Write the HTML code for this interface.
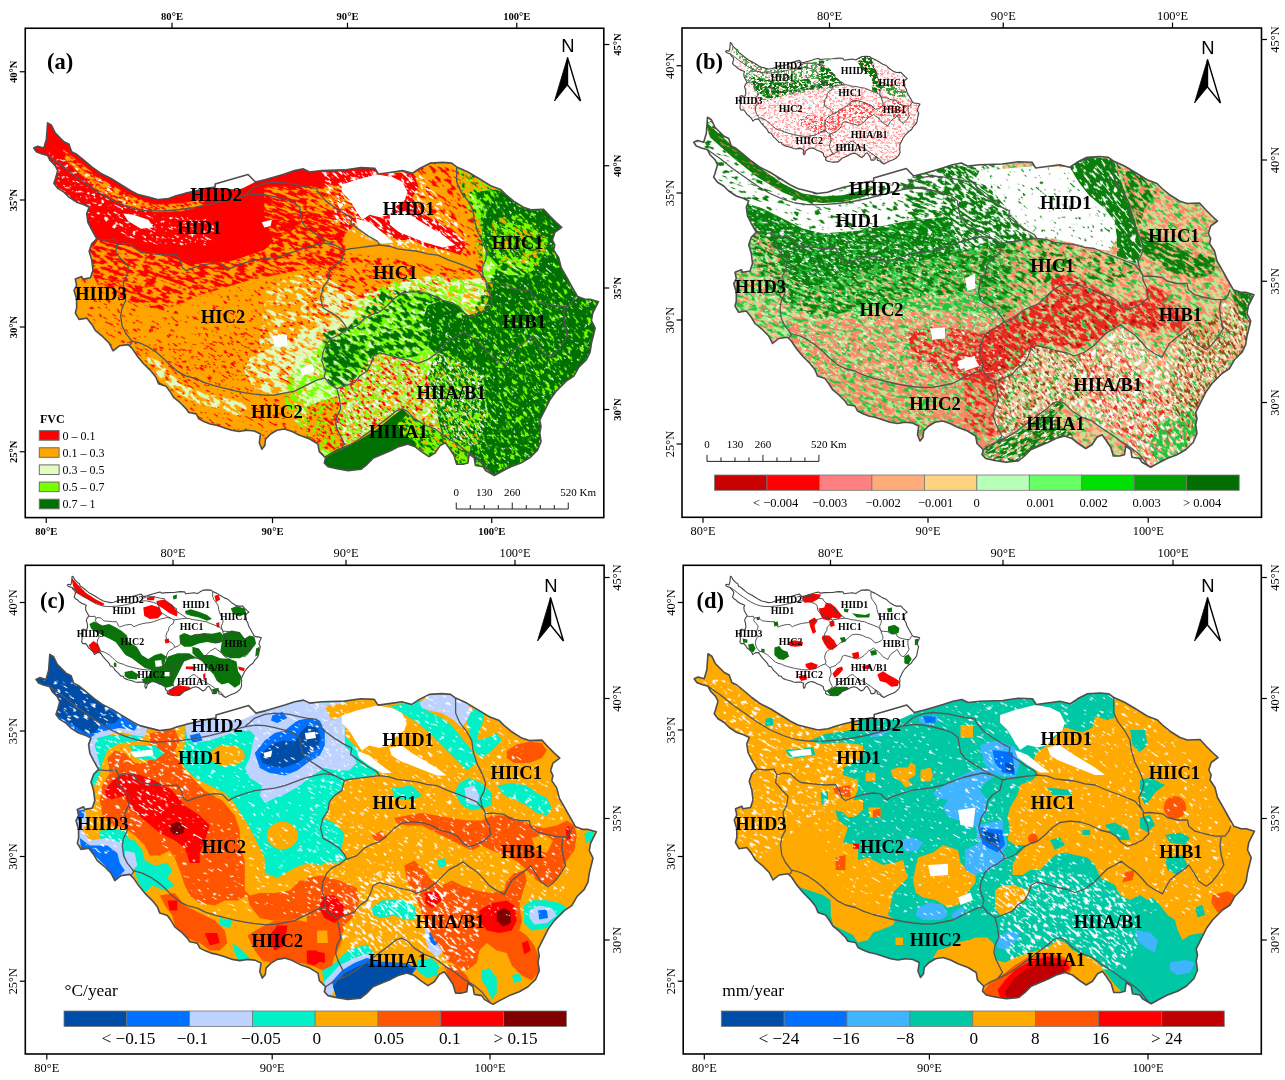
<!DOCTYPE html><html><head><meta charset="utf-8"><title>Figure</title><style>
html,body{margin:0;padding:0;background:#fff}svg{display:block}
text{font-family:"Liberation Serif","DejaVu Serif",serif;fill:#000}
.tk{font-size:12.4px}.tkb{font-size:10.6px;font-weight:bold}.rl{font-size:18.5px;font-weight:bold;text-anchor:middle}
.il{font-size:7.5px;font-weight:bold;text-anchor:middle}.pl{font-size:22.5px;font-weight:bold}.lg{font-size:17.4px}.sb{font-size:11px}
.N{font-family:"Liberation Sans","DejaVu Sans",sans-serif;font-size:18.4px;text-anchor:middle}
</style></head><body>
<svg width="1285" height="1080" viewBox="0 0 1285 1080">
<rect width="1285" height="1080" fill="#fff"/>
<defs>
<path id="ol" d="M694.2,678.8 L698.0,677.0 L704.2,678.8 L706.8,670.0 L708.0,653.8 L711.8,656.2 L715.5,663.8 L720.5,668.8 L724.2,672.5 L729.2,675.0 L731.8,682.5 L736.8,685.0 L743.0,690.0 L751.8,697.5 L760.5,703.8 L770.5,708.8 L780.5,715.0 L790.5,721.2 L798.0,725.0 L808.0,727.5 L818.0,730.0 L828.0,728.8 L835.5,726.2 L844.2,723.8 L855.5,721.2 L865.5,718.8 L874.2,717.5 L874.2,714.5 L906.8,705.0 L914.2,712.5 L924.2,710.0 L933.0,707.5 L943.0,704.5 L953.0,701.2 L961.8,699.5 L968.0,702.5 L980.0,701.2 L1002.5,700.5 L1018.8,698.2 L1032.5,698.8 L1036.2,704.5 L1047.5,703.0 L1060.0,701.2 L1070.0,703.8 L1077.5,698.8 L1087.5,693.8 L1100.0,693.0 L1108.8,693.8 L1113.8,697.5 L1125.0,702.5 L1137.5,710.0 L1147.5,716.2 L1157.5,720.0 L1162.5,725.0 L1170.0,731.2 L1180.0,737.5 L1187.5,740.0 L1200.0,739.5 L1206.2,746.2 L1212.5,752.5 L1218.0,757.5 L1211.2,762.5 L1208.8,770.0 L1211.2,775.0 L1210.0,780.0 L1215.0,787.5 L1217.5,797.5 L1222.5,806.2 L1228.8,817.5 L1233.8,826.2 L1241.2,828.8 L1246.2,828.8 L1254.5,831.2 L1248.8,842.5 L1247.5,850.0 L1251.2,857.5 L1250.0,862.5 L1247.5,872.5 L1246.2,881.2 L1242.5,888.8 L1235.0,896.2 L1230.0,905.0 L1222.5,910.0 L1212.5,920.0 L1206.2,928.8 L1201.2,938.8 L1196.2,948.8 L1197.5,955.0 L1196.2,961.2 L1197.5,970.0 L1193.8,978.8 L1186.2,986.2 L1177.5,991.2 L1167.5,995.0 L1158.8,999.5 L1151.2,1003.8 L1142.5,998.8 L1140.0,995.0 L1132.5,993.8 L1131.2,986.2 L1126.2,982.5 L1125.0,991.2 L1120.0,992.5 L1113.8,992.5 L1111.2,983.8 L1106.2,976.2 L1102.5,971.2 L1097.5,973.8 L1092.5,981.2 L1086.2,985.0 L1078.8,980.0 L1072.5,975.0 L1065.0,972.5 L1056.2,975.0 L1048.8,978.8 L1040.0,982.5 L1031.2,986.2 L1025.0,992.5 L1018.8,997.5 L1006.2,998.8 L995.0,997.0 L986.2,995.0 L982.5,991.2 L983.8,986.2 L977.5,980.0 L976.2,972.5 L968.0,967.5 L958.0,963.8 L950.5,960.0 L943.0,957.5 L935.5,958.8 L929.2,962.5 L924.2,967.5 L923.5,973.8 L920.5,977.5 L918.0,971.2 L919.2,962.5 L913.0,959.5 L905.5,958.8 L898.0,960.0 L890.5,958.8 L883.0,956.2 L875.5,953.8 L869.2,952.5 L863.0,950.0 L858.0,947.5 L855.5,942.5 L848.0,941.2 L845.5,937.5 L839.2,931.2 L833.0,926.2 L829.2,920.0 L825.5,915.0 L818.0,912.5 L815.5,906.2 L810.5,900.0 L803.0,892.5 L796.8,885.0 L791.8,877.5 L788.0,873.8 L779.2,875.0 L773.0,880.0 L769.2,872.5 L763.0,866.2 L755.5,860.0 L751.8,853.8 L746.8,847.5 L739.2,848.8 L735.5,842.5 L736.8,837.5 L736.8,828.8 L734.2,820.0 L736.8,815.0 L735.5,808.8 L741.8,806.2 L743.0,808.8 L750.5,807.5 L753.0,800.0 L751.8,790.0 L749.2,781.2 L751.8,773.8 L756.8,768.8 L751.8,760.0 L748.0,752.5 L746.8,743.8 L749.2,737.5 L744.2,735.0 L736.8,732.5 L729.2,727.5 L724.2,722.5 L718.0,718.8 L714.2,713.8 L715.5,710.0 L718.0,701.2 L715.5,696.2 L710.5,691.2 L708.0,686.2 L701.8,684.5 L696.8,682.5Z"/>
<clipPath id="cp"><use href="#ol"/></clipPath>
<path id="bd" d="M708.0,686.2 L720.5,695.0 L733.0,705.0 L745.5,713.8 L758.0,722.5 L770.5,730.0 L783.0,735.5 L795.5,739.5 L808.0,741.2 L823.0,741.2 L838.0,740.0 L853.0,738.0 L868.0,735.0 L883.0,731.2 L895.5,728.0 L903.0,726.2 L913.0,724.5 L923.0,725.0 L933.0,727.0 L943.0,729.5 L951.8,732.5 L958.0,737.5 L959.2,745.0 L960.5,752.5 L965.5,758.8 L975.5,765.0 L983.0,770.0 L993.0,775.0 L1002.5,780.0 M903.0,726.2 L913.0,717.5 L923.0,713.8 L933.0,712.5 L948.0,713.8 L958.0,716.2 L965.0,717.5 L975.0,718.8 L976.2,722.5 L983.8,731.2 L992.5,737.5 L1002.5,743.8 L1010.0,747.5 L1008.8,753.8 L1017.5,760.0 L1026.2,766.2 L1035.0,771.2 L1037.5,775.0 M756.8,769.2 L765.5,770.0 L774.2,769.2 L776.8,775.0 L775.5,782.5 L781.8,790.0 L788.0,796.2 L786.8,805.0 L783.0,812.5 L784.2,820.0 L785.5,830.0 L781.8,837.5 L780.5,845.0 L781.8,855.0 L785.5,862.5 L790.5,868.8 L791.8,871.2 L789.2,875.0 M776.8,775.0 L783.0,773.0 L790.5,773.8 L795.5,778.8 L800.5,782.5 L813.0,783.8 L825.5,785.0 L835.5,784.5 L839.2,790.0 L841.8,797.5 L845.5,800.5 L853.0,797.5 L863.0,794.5 L873.0,793.0 L880.5,793.8 L886.8,800.0 L890.5,797.5 L900.5,793.8 L913.0,790.0 L923.0,788.8 L933.0,787.5 L943.0,785.0 L953.0,781.2 L963.0,777.5 L973.0,775.0 L983.0,773.0 L993.0,775.0 M1002.5,780.0 L1007.5,778.8 L1017.5,777.5 L1027.5,776.2 L1037.5,775.0 L1047.5,776.2 L1055.0,778.8 L1065.0,780.0 L1075.0,781.2 L1085.0,783.8 L1095.0,785.0 L1105.0,789.5 L1120.0,795.0 L1135.0,801.2 L1142.5,810.0 L1143.8,813.0 M1113.8,697.5 L1113.8,712.5 L1117.5,721.2 L1125.0,731.2 L1130.0,740.0 L1131.2,750.0 L1135.0,762.5 L1140.0,772.5 L1143.8,782.5 L1142.5,790.0 L1138.8,797.5 L1140.0,805.0 L1143.8,813.0 M1143.8,813.0 L1150.0,812.5 L1162.5,813.8 L1167.5,817.5 L1177.5,820.0 L1187.5,820.0 L1188.8,826.2 L1195.0,831.2 L1205.0,833.8 L1215.0,836.2 L1225.0,836.2 L1228.8,831.2 L1230.5,826.2 M1002.5,780.0 L1000.0,790.0 L992.5,795.0 L987.5,801.2 L986.2,810.0 L981.2,817.5 L978.8,827.5 L981.2,837.5 L990.0,842.5 L997.5,847.5 L1002.5,853.8 L1005.0,858.0 L997.5,863.8 L990.0,867.5 L985.0,872.5 L981.2,881.2 L980.0,890.0 L983.8,900.0 L982.5,906.2 M1005.0,858.8 L1015.0,855.0 L1022.5,847.5 L1030.0,843.8 L1037.5,841.2 L1045.0,835.0 L1052.5,827.5 L1060.0,822.5 L1070.0,821.2 L1080.0,822.0 L1090.0,825.0 L1100.0,830.0 L1110.0,832.5 L1116.2,836.2 L1121.2,842.5 L1127.5,846.2 L1135.0,843.8 L1142.5,840.0 L1148.8,833.8 L1147.5,825.0 L1143.8,817.5 L1143.0,813.0 M1221.2,837.0 L1220.0,845.0 L1221.2,855.0 L1223.8,865.0 L1217.5,875.0 L1211.2,882.5 L1206.2,886.2 L1198.8,881.2 L1193.8,872.5 L1188.8,865.0 L1185.0,868.8 L1177.5,873.8 L1170.0,880.0 L1165.0,888.8 L1162.5,893.8 L1155.0,890.0 L1147.5,885.0 L1141.2,877.5 L1135.0,871.2 L1127.5,866.2 L1121.2,861.2 L1115.0,865.0 L1107.5,868.8 L1101.2,875.0 L1093.8,882.5 L1085.0,888.8 L1075.0,892.5 L1067.5,889.5 L1057.5,887.5 L1047.5,884.5 L1037.5,882.0 L1031.2,885.0 L1028.8,892.5 L1025.0,900.0 L1017.5,905.0 L1012.5,911.2 L1002.5,915.0 L995.0,917.5 L987.5,912.5 L982.5,906.2 M791.8,870.0 L800.5,872.5 L808.0,876.2 L815.5,881.2 L823.0,887.5 L830.5,895.0 L838.0,901.2 L845.5,905.0 L855.5,907.5 L863.0,911.2 L873.0,914.5 L883.0,917.0 L893.0,919.5 L903.0,921.5 L913.0,923.0 L923.0,924.0 L933.0,923.8 L943.0,922.0 L953.0,920.0 L960.5,916.2 L968.0,912.5 L975.5,908.8 L982.5,907.0 M995.0,917.5 L997.5,927.5 L998.8,937.5 L995.0,945.0 L993.8,952.5 L996.2,960.0 L1000.0,967.5 L1002.5,972.5 L997.5,978.8 L990.0,982.0 L983.8,986.2 M997.5,978.8 L1007.5,973.8 L1017.5,967.5 L1027.5,960.0 L1037.5,952.5 L1047.5,945.0 L1053.8,939.5 L1060.0,937.5 L1065.0,940.0 L1072.5,947.5 L1082.5,953.8 L1092.5,957.5 L1102.5,965.0 L1112.5,971.2 L1122.5,978.8 L1132.5,985.0 L1140.0,991.2 L1145.0,997.5 L1148.8,1002.5"/>

<filter id="spk" x="0" y="0" width="100%" height="100%" filterUnits="objectBoundingBox" color-interpolation-filters="sRGB">
<feTurbulence type="fractalNoise" baseFrequency="0.09 0.16" numOctaves="2" seed="7" result="n"/>
<feColorMatrix in="n" type="matrix" values="0 0 0 0 1  0 0 0 0 1  0 0 0 0 1  9 0 0 0 -5.2" result="m"/>
<feComposite in="m" in2="SourceGraphic" operator="in"/>
</filter>
<filter id="spk2" x="0" y="0" width="100%" height="100%" filterUnits="objectBoundingBox" color-interpolation-filters="sRGB">
<feTurbulence type="fractalNoise" baseFrequency="0.12 0.2" numOctaves="2" seed="3" result="n"/>
<feColorMatrix in="n" type="matrix" values="0 0 0 0 1  0 0 0 0 1  0 0 0 0 1  9 0 0 0 -5.6" result="m"/>
<feComposite in="m" in2="SourceGraphic" operator="in"/>
</filter>
<filter id="f0" x="0" y="0" width="1" height="1" color-interpolation-filters="sRGB"><feTurbulence type="fractalNoise" baseFrequency="0.16 0.45" numOctaves="2" seed="4"/><feColorMatrix type="matrix" values="0 0 0 0 0  0 0 0 0 0  0 0 0 0 0  14 0 0 0 -5.880" result="m"/><feComposite in="SourceGraphic" in2="m" operator="in"/></filter><filter id="f1" x="0" y="0" width="1" height="1" color-interpolation-filters="sRGB"><feTurbulence type="fractalNoise" baseFrequency="0.096 0.375" numOctaves="2" seed="5"/><feColorMatrix type="matrix" values="0 0 0 0 0  0 0 0 0 0  0 0 0 0 0  14 0 0 0 -7.000" result="m"/><feComposite in="SourceGraphic" in2="m" operator="in"/></filter><filter id="f2" x="0" y="0" width="1" height="1" color-interpolation-filters="sRGB"><feTurbulence type="fractalNoise" baseFrequency="0.096 0.375" numOctaves="2" seed="6"/><feColorMatrix type="matrix" values="0 0 0 0 0  0 0 0 0 0  0 0 0 0 0  14 0 0 0 -7.000" result="m"/><feComposite in="SourceGraphic" in2="m" operator="in"/></filter><filter id="f3" x="0" y="0" width="1" height="1" color-interpolation-filters="sRGB"><feTurbulence type="fractalNoise" baseFrequency="0.112 0.33" numOctaves="2" seed="2"/><feColorMatrix type="matrix" values="0 0 0 0 0  0 0 0 0 0  0 0 0 0 0  14 0 0 0 -6.580" result="m"/><feComposite in="SourceGraphic" in2="m" operator="in"/></filter><filter id="f4" x="0" y="0" width="1" height="1" color-interpolation-filters="sRGB"><feTurbulence type="fractalNoise" baseFrequency="0.16 0.42" numOctaves="2" seed="9"/><feColorMatrix type="matrix" values="0 0 0 0 0  0 0 0 0 0  0 0 0 0 0  14 0 0 0 -8.960" result="m"/><feComposite in="SourceGraphic" in2="m" operator="in"/></filter><filter id="f5" x="0" y="0" width="1" height="1" color-interpolation-filters="sRGB"><feTurbulence type="fractalNoise" baseFrequency="0.16 0.42" numOctaves="2" seed="11"/><feColorMatrix type="matrix" values="0 0 0 0 0  0 0 0 0 0  0 0 0 0 0  14 0 0 0 -9.100" result="m"/><feComposite in="SourceGraphic" in2="m" operator="in"/></filter><filter id="f6" x="0" y="0" width="1" height="1" color-interpolation-filters="sRGB"><feTurbulence type="fractalNoise" baseFrequency="0.128 0.375" numOctaves="2" seed="12"/><feColorMatrix type="matrix" values="0 0 0 0 0  0 0 0 0 0  0 0 0 0 0  14 0 0 0 -7.700" result="m"/><feComposite in="SourceGraphic" in2="m" operator="in"/></filter><filter id="f7" x="0" y="0" width="1" height="1" color-interpolation-filters="sRGB"><feTurbulence type="fractalNoise" baseFrequency="0.112 0.375" numOctaves="2" seed="13"/><feColorMatrix type="matrix" values="0 0 0 0 0  0 0 0 0 0  0 0 0 0 0  14 0 0 0 -7.840" result="m"/><feComposite in="SourceGraphic" in2="m" operator="in"/></filter><filter id="f8" x="0" y="0" width="1" height="1" color-interpolation-filters="sRGB"><feTurbulence type="fractalNoise" baseFrequency="0.112 0.3" numOctaves="2" seed="21"/><feColorMatrix type="matrix" values="0 0 0 0 0  0 0 0 0 0  0 0 0 0 0  14 0 0 0 -6.160" result="m"/><feComposite in="SourceGraphic" in2="m" operator="in"/></filter><filter id="f9" x="0" y="0" width="1" height="1" color-interpolation-filters="sRGB"><feTurbulence type="fractalNoise" baseFrequency="0.112 0.3" numOctaves="2" seed="22"/><feColorMatrix type="matrix" values="0 0 0 0 0  0 0 0 0 0  0 0 0 0 0  14 0 0 0 -6.300" result="m"/><feComposite in="SourceGraphic" in2="m" operator="in"/></filter><filter id="f10" x="0" y="0" width="1" height="1" color-interpolation-filters="sRGB"><feTurbulence type="fractalNoise" baseFrequency="0.128 0.3" numOctaves="2" seed="23"/><feColorMatrix type="matrix" values="0 0 0 0 0  0 0 0 0 0  0 0 0 0 0  14 0 0 0 -6.580" result="m"/><feComposite in="SourceGraphic" in2="m" operator="in"/></filter><filter id="f11" x="0" y="0" width="1" height="1" color-interpolation-filters="sRGB"><feTurbulence type="fractalNoise" baseFrequency="0.112 0.3" numOctaves="2" seed="24"/><feColorMatrix type="matrix" values="0 0 0 0 0  0 0 0 0 0  0 0 0 0 0  14 0 0 0 -7.420" result="m"/><feComposite in="SourceGraphic" in2="m" operator="in"/></filter><filter id="f12" x="0" y="0" width="1" height="1" color-interpolation-filters="sRGB"><feTurbulence type="fractalNoise" baseFrequency="0.13 0.3" numOctaves="2" seed="25"/><feColorMatrix type="matrix" values="0 0 0 0 0  0 0 0 0 0  0 0 0 0 0  14 0 0 0 -7.000" result="m"/><feComposite in="SourceGraphic" in2="m" operator="in"/></filter><filter id="f13" x="0" y="0" width="1" height="1" color-interpolation-filters="sRGB"><feTurbulence type="fractalNoise" baseFrequency="0.2 0.4" numOctaves="2" seed="26"/><feColorMatrix type="matrix" values="0 0 0 0 0  0 0 0 0 0  0 0 0 0 0  14 0 0 0 -8.680" result="m"/><feComposite in="SourceGraphic" in2="m" operator="in"/></filter><filter id="f14" x="0" y="0" width="1" height="1" color-interpolation-filters="sRGB"><feTurbulence type="fractalNoise" baseFrequency="0.13 0.3" numOctaves="2" seed="33"/><feColorMatrix type="matrix" values="0 0 0 0 0  0 0 0 0 0  0 0 0 0 0  14 0 0 0 -6.300" result="m"/><feComposite in="SourceGraphic" in2="m" operator="in"/></filter><filter id="f15" x="0" y="0" width="1" height="1" color-interpolation-filters="sRGB"><feTurbulence type="fractalNoise" baseFrequency="0.144 0.33" numOctaves="2" seed="31"/><feColorMatrix type="matrix" values="0 0 0 0 0  0 0 0 0 0  0 0 0 0 0  14 0 0 0 -7.280" result="m"/><feComposite in="SourceGraphic" in2="m" operator="in"/></filter><filter id="f16" x="0" y="0" width="1" height="1" color-interpolation-filters="sRGB"><feTurbulence type="fractalNoise" baseFrequency="0.144 0.33" numOctaves="2" seed="32"/><feColorMatrix type="matrix" values="0 0 0 0 0  0 0 0 0 0  0 0 0 0 0  14 0 0 0 -7.000" result="m"/><feComposite in="SourceGraphic" in2="m" operator="in"/></filter><filter id="f17" x="0" y="0" width="1" height="1" color-interpolation-filters="sRGB"><feTurbulence type="fractalNoise" baseFrequency="0.16 0.375" numOctaves="2" seed="41"/><feColorMatrix type="matrix" values="0 0 0 0 0  0 0 0 0 0  0 0 0 0 0  14 0 0 0 -7.000" result="m"/><feComposite in="SourceGraphic" in2="m" operator="in"/></filter><filter id="f18" x="0" y="0" width="1" height="1" color-interpolation-filters="sRGB"><feTurbulence type="fractalNoise" baseFrequency="0.16 0.375" numOctaves="2" seed="42"/><feColorMatrix type="matrix" values="0 0 0 0 0  0 0 0 0 0  0 0 0 0 0  14 0 0 0 -7.280" result="m"/><feComposite in="SourceGraphic" in2="m" operator="in"/></filter><filter id="f19" x="0" y="0" width="1" height="1" color-interpolation-filters="sRGB"><feTurbulence type="fractalNoise" baseFrequency="0.192 0.375" numOctaves="2" seed="43"/><feColorMatrix type="matrix" values="0 0 0 0 0  0 0 0 0 0  0 0 0 0 0  14 0 0 0 -8.120" result="m"/><feComposite in="SourceGraphic" in2="m" operator="in"/></filter><filter id="f20" x="0" y="0" width="1" height="1" color-interpolation-filters="sRGB"><feTurbulence type="fractalNoise" baseFrequency="0.192 0.45" numOctaves="2" seed="44"/><feColorMatrix type="matrix" values="0 0 0 0 0  0 0 0 0 0  0 0 0 0 0  14 0 0 0 -8.400" result="m"/><feComposite in="SourceGraphic" in2="m" operator="in"/></filter><filter id="f21" x="0" y="0" width="1" height="1" color-interpolation-filters="sRGB"><feTurbulence type="fractalNoise" baseFrequency="0.192 0.375" numOctaves="2" seed="45"/><feColorMatrix type="matrix" values="0 0 0 0 0  0 0 0 0 0  0 0 0 0 0  14 0 0 0 -7.280" result="m"/><feComposite in="SourceGraphic" in2="m" operator="in"/></filter><filter id="f22" x="0" y="0" width="1" height="1" color-interpolation-filters="sRGB"><feTurbulence type="fractalNoise" baseFrequency="0.192 0.375" numOctaves="2" seed="46"/><feColorMatrix type="matrix" values="0 0 0 0 0  0 0 0 0 0  0 0 0 0 0  14 0 0 0 -7.700" result="m"/><feComposite in="SourceGraphic" in2="m" operator="in"/></filter><filter id="f23" x="0" y="0" width="1" height="1" color-interpolation-filters="sRGB"><feTurbulence type="fractalNoise" baseFrequency="0.16 0.375" numOctaves="2" seed="47"/><feColorMatrix type="matrix" values="0 0 0 0 0  0 0 0 0 0  0 0 0 0 0  14 0 0 0 -7.000" result="m"/><feComposite in="SourceGraphic" in2="m" operator="in"/></filter><filter id="f24" x="0" y="0" width="1" height="1" color-interpolation-filters="sRGB"><feTurbulence type="fractalNoise" baseFrequency="0.16 0.375" numOctaves="2" seed="48"/><feColorMatrix type="matrix" values="0 0 0 0 0  0 0 0 0 0  0 0 0 0 0  14 0 0 0 -8.120" result="m"/><feComposite in="SourceGraphic" in2="m" operator="in"/></filter><filter id="f25" x="0" y="0" width="1" height="1" color-interpolation-filters="sRGB"><feTurbulence type="fractalNoise" baseFrequency="0.112 0.3" numOctaves="2" seed="51"/><feColorMatrix type="matrix" values="0 0 0 0 0  0 0 0 0 0  0 0 0 0 0  14 0 0 0 -6.440" result="m"/><feComposite in="SourceGraphic" in2="m" operator="in"/></filter><filter id="f26" x="0" y="0" width="1" height="1" color-interpolation-filters="sRGB"><feTurbulence type="fractalNoise" baseFrequency="0.112 0.3" numOctaves="2" seed="52"/><feColorMatrix type="matrix" values="0 0 0 0 0  0 0 0 0 0  0 0 0 0 0  14 0 0 0 -7.000" result="m"/><feComposite in="SourceGraphic" in2="m" operator="in"/></filter><filter id="f27" x="0" y="0" width="1" height="1" color-interpolation-filters="sRGB"><feTurbulence type="fractalNoise" baseFrequency="0.128 0.3" numOctaves="2" seed="53"/><feColorMatrix type="matrix" values="0 0 0 0 0  0 0 0 0 0  0 0 0 0 0  14 0 0 0 -6.580" result="m"/><feComposite in="SourceGraphic" in2="m" operator="in"/></filter><filter id="f28" x="0" y="0" width="1" height="1" color-interpolation-filters="sRGB"><feTurbulence type="fractalNoise" baseFrequency="0.128 0.33" numOctaves="2" seed="61"/><feColorMatrix type="matrix" values="0 0 0 0 0  0 0 0 0 0  0 0 0 0 0  14 0 0 0 -8.680" result="m"/><feComposite in="SourceGraphic" in2="m" operator="in"/></filter><filter id="f29" x="0" y="0" width="1" height="1" color-interpolation-filters="sRGB"><feTurbulence type="fractalNoise" baseFrequency="0.128 0.33" numOctaves="2" seed="62"/><feColorMatrix type="matrix" values="0 0 0 0 0  0 0 0 0 0  0 0 0 0 0  14 0 0 0 -8.820" result="m"/><feComposite in="SourceGraphic" in2="m" operator="in"/></filter><filter id="f30" x="0" y="0" width="1" height="1" color-interpolation-filters="sRGB"><feTurbulence type="fractalNoise" baseFrequency="0.24 0.45" numOctaves="2" seed="63"/><feColorMatrix type="matrix" values="0 0 0 0 0  0 0 0 0 0  0 0 0 0 0  14 0 0 0 -9.520" result="m"/><feComposite in="SourceGraphic" in2="m" operator="in"/></filter><filter id="f31" x="0" y="0" width="1" height="1" color-interpolation-filters="sRGB"><feTurbulence type="fractalNoise" baseFrequency="0.24 0.525" numOctaves="2" seed="64"/><feColorMatrix type="matrix" values="0 0 0 0 0  0 0 0 0 0  0 0 0 0 0  14 0 0 0 -7.700" result="m"/><feComposite in="SourceGraphic" in2="m" operator="in"/></filter><filter id="f32" x="0" y="0" width="1" height="1" color-interpolation-filters="sRGB"><feTurbulence type="fractalNoise" baseFrequency="0.16 0.375" numOctaves="2" seed="65"/><feColorMatrix type="matrix" values="0 0 0 0 0  0 0 0 0 0  0 0 0 0 0  14 0 0 0 -7.700" result="m"/><feComposite in="SourceGraphic" in2="m" operator="in"/></filter><filter id="f33" x="0" y="0" width="1" height="1" color-interpolation-filters="sRGB"><feTurbulence type="fractalNoise" baseFrequency="0.192 0.45" numOctaves="2" seed="66"/><feColorMatrix type="matrix" values="0 0 0 0 0  0 0 0 0 0  0 0 0 0 0  14 0 0 0 -8.960" result="m"/><feComposite in="SourceGraphic" in2="m" operator="in"/></filter><filter id="f34" x="0" y="0" width="1" height="1" color-interpolation-filters="sRGB"><feTurbulence type="fractalNoise" baseFrequency="0.13 0.3" numOctaves="2" seed="69"/><feColorMatrix type="matrix" values="0 0 0 0 0  0 0 0 0 0  0 0 0 0 0  14 0 0 0 -7.700" result="m"/><feComposite in="SourceGraphic" in2="m" operator="in"/></filter><filter id="f35" x="0" y="0" width="1" height="1" color-interpolation-filters="sRGB"><feTurbulence type="fractalNoise" baseFrequency="0.13 0.3" numOctaves="2" seed="70"/><feColorMatrix type="matrix" values="0 0 0 0 0  0 0 0 0 0  0 0 0 0 0  14 0 0 0 -7.280" result="m"/><feComposite in="SourceGraphic" in2="m" operator="in"/></filter><filter id="f36" x="0" y="0" width="1" height="1" color-interpolation-filters="sRGB"><feTurbulence type="fractalNoise" baseFrequency="0.16 0.375" numOctaves="2" seed="67"/><feColorMatrix type="matrix" values="0 0 0 0 0  0 0 0 0 0  0 0 0 0 0  14 0 0 0 -7.280" result="m"/><feComposite in="SourceGraphic" in2="m" operator="in"/></filter><filter id="f37" x="0" y="0" width="1" height="1" color-interpolation-filters="sRGB"><feTurbulence type="fractalNoise" baseFrequency="0.16 0.375" numOctaves="2" seed="68"/><feColorMatrix type="matrix" values="0 0 0 0 0  0 0 0 0 0  0 0 0 0 0  14 0 0 0 -8.400" result="m"/><feComposite in="SourceGraphic" in2="m" operator="in"/></filter><filter id="f38" x="0" y="0" width="1" height="1" color-interpolation-filters="sRGB"><feTurbulence type="fractalNoise" baseFrequency="0.16 0.45" numOctaves="2" seed="71"/><feColorMatrix type="matrix" values="0 0 0 0 0  0 0 0 0 0  0 0 0 0 0  14 0 0 0 -7.840" result="m"/><feComposite in="SourceGraphic" in2="m" operator="in"/></filter><filter id="f39" x="0" y="0" width="1" height="1" color-interpolation-filters="sRGB"><feTurbulence type="fractalNoise" baseFrequency="0.192 0.45" numOctaves="2" seed="72"/><feColorMatrix type="matrix" values="0 0 0 0 0  0 0 0 0 0  0 0 0 0 0  14 0 0 0 -8.680" result="m"/><feComposite in="SourceGraphic" in2="m" operator="in"/></filter><filter id="f40" x="0" y="0" width="1" height="1" color-interpolation-filters="sRGB"><feTurbulence type="fractalNoise" baseFrequency="0.144 0.33" numOctaves="2" seed="101"/><feColorMatrix type="matrix" values="0 0 0 0 0  0 0 0 0 0  0 0 0 0 0  14 0 0 0 -6.160" result="m"/><feComposite in="SourceGraphic" in2="m" operator="in"/></filter><filter id="f41" x="0" y="0" width="1" height="1" color-interpolation-filters="sRGB"><feTurbulence type="fractalNoise" baseFrequency="0.128 0.3" numOctaves="2" seed="102"/><feColorMatrix type="matrix" values="0 0 0 0 0  0 0 0 0 0  0 0 0 0 0  14 0 0 0 -7.000" result="m"/><feComposite in="SourceGraphic" in2="m" operator="in"/></filter><filter id="f42" x="0" y="0" width="1" height="1" color-interpolation-filters="sRGB"><feTurbulence type="fractalNoise" baseFrequency="0.16 0.33" numOctaves="2" seed="103"/><feColorMatrix type="matrix" values="0 0 0 0 0  0 0 0 0 0  0 0 0 0 0  14 0 0 0 -8.120" result="m"/><feComposite in="SourceGraphic" in2="m" operator="in"/></filter><filter id="f43" x="0" y="0" width="1" height="1" color-interpolation-filters="sRGB"><feTurbulence type="fractalNoise" baseFrequency="0.144 0.33" numOctaves="2" seed="104"/><feColorMatrix type="matrix" values="0 0 0 0 0  0 0 0 0 0  0 0 0 0 0  14 0 0 0 -7.000" result="m"/><feComposite in="SourceGraphic" in2="m" operator="in"/></filter><filter id="f44" x="0" y="0" width="1" height="1" color-interpolation-filters="sRGB"><feTurbulence type="fractalNoise" baseFrequency="0.128 0.3" numOctaves="2" seed="105"/><feColorMatrix type="matrix" values="0 0 0 0 0  0 0 0 0 0  0 0 0 0 0  14 0 0 0 -7.840" result="m"/><feComposite in="SourceGraphic" in2="m" operator="in"/></filter><filter id="f45" x="0" y="0" width="1" height="1" color-interpolation-filters="sRGB"><feTurbulence type="fractalNoise" baseFrequency="0.16 0.33" numOctaves="2" seed="106"/><feColorMatrix type="matrix" values="0 0 0 0 0  0 0 0 0 0  0 0 0 0 0  14 0 0 0 -7.280" result="m"/><feComposite in="SourceGraphic" in2="m" operator="in"/></filter><filter id="f46" x="0" y="0" width="1" height="1" color-interpolation-filters="sRGB"><feTurbulence type="fractalNoise" baseFrequency="0.13 0.3" numOctaves="2" seed="107"/><feColorMatrix type="matrix" values="0 0 0 0 0  0 0 0 0 0  0 0 0 0 0  14 0 0 0 -7.000" result="m"/><feComposite in="SourceGraphic" in2="m" operator="in"/></filter><filter id="f47" x="0" y="0" width="1" height="1" color-interpolation-filters="sRGB"><feTurbulence type="fractalNoise" baseFrequency="0.14 0.3" numOctaves="2" seed="108"/><feColorMatrix type="matrix" values="0 0 0 0 0  0 0 0 0 0  0 0 0 0 0  14 0 0 0 -7.280" result="m"/><feComposite in="SourceGraphic" in2="m" operator="in"/></filter><filter id="f48" x="0" y="0" width="1" height="1" color-interpolation-filters="sRGB"><feTurbulence type="fractalNoise" baseFrequency="0.144 0.3" numOctaves="2" seed="111"/><feColorMatrix type="matrix" values="0 0 0 0 0  0 0 0 0 0  0 0 0 0 0  14 0 0 0 -6.580" result="m"/><feComposite in="SourceGraphic" in2="m" operator="in"/></filter><filter id="f49" x="0" y="0" width="1" height="1" color-interpolation-filters="sRGB"><feTurbulence type="fractalNoise" baseFrequency="0.128 0.3" numOctaves="2" seed="112"/><feColorMatrix type="matrix" values="0 0 0 0 0  0 0 0 0 0  0 0 0 0 0  14 0 0 0 -6.300" result="m"/><feComposite in="SourceGraphic" in2="m" operator="in"/></filter><filter id="f50" x="0" y="0" width="1" height="1" color-interpolation-filters="sRGB"><feTurbulence type="fractalNoise" baseFrequency="0.16 0.33" numOctaves="2" seed="113"/><feColorMatrix type="matrix" values="0 0 0 0 0  0 0 0 0 0  0 0 0 0 0  14 0 0 0 -8.680" result="m"/><feComposite in="SourceGraphic" in2="m" operator="in"/></filter><filter id="f51" x="0" y="0" width="1" height="1" color-interpolation-filters="sRGB"><feTurbulence type="fractalNoise" baseFrequency="0.144 0.3" numOctaves="2" seed="114"/><feColorMatrix type="matrix" values="0 0 0 0 0  0 0 0 0 0  0 0 0 0 0  14 0 0 0 -6.300" result="m"/><feComposite in="SourceGraphic" in2="m" operator="in"/></filter><filter id="f52" x="0" y="0" width="1" height="1" color-interpolation-filters="sRGB"><feTurbulence type="fractalNoise" baseFrequency="0.144 0.3" numOctaves="2" seed="115"/><feColorMatrix type="matrix" values="0 0 0 0 0  0 0 0 0 0  0 0 0 0 0  14 0 0 0 -7.280" result="m"/><feComposite in="SourceGraphic" in2="m" operator="in"/></filter><filter id="f53" x="0" y="0" width="1" height="1" color-interpolation-filters="sRGB"><feTurbulence type="fractalNoise" baseFrequency="0.16 0.33" numOctaves="2" seed="116"/><feColorMatrix type="matrix" values="0 0 0 0 0  0 0 0 0 0  0 0 0 0 0  14 0 0 0 -7.700" result="m"/><feComposite in="SourceGraphic" in2="m" operator="in"/></filter><filter id="f54" x="0" y="0" width="1" height="1" color-interpolation-filters="sRGB"><feTurbulence type="fractalNoise" baseFrequency="0.192 0.45" numOctaves="2" seed="121"/><feColorMatrix type="matrix" values="0 0 0 0 0  0 0 0 0 0  0 0 0 0 0  14 0 0 0 -7.420" result="m"/><feComposite in="SourceGraphic" in2="m" operator="in"/></filter><filter id="f55" x="0" y="0" width="1" height="1" color-interpolation-filters="sRGB"><feTurbulence type="fractalNoise" baseFrequency="0.192 0.42" numOctaves="2" seed="122"/><feColorMatrix type="matrix" values="0 0 0 0 0  0 0 0 0 0  0 0 0 0 0  14 0 0 0 -7.700" result="m"/><feComposite in="SourceGraphic" in2="m" operator="in"/></filter><filter id="f56" x="0" y="0" width="1" height="1" color-interpolation-filters="sRGB"><feTurbulence type="fractalNoise" baseFrequency="0.192 0.42" numOctaves="2" seed="123"/><feColorMatrix type="matrix" values="0 0 0 0 0  0 0 0 0 0  0 0 0 0 0  14 0 0 0 -8.120" result="m"/><feComposite in="SourceGraphic" in2="m" operator="in"/></filter><filter id="f57" x="0" y="0" width="1" height="1" color-interpolation-filters="sRGB"><feTurbulence type="fractalNoise" baseFrequency="0.112 0.33" numOctaves="2" seed="131"/><feColorMatrix type="matrix" values="0 0 0 0 0  0 0 0 0 0  0 0 0 0 0  14 0 0 0 -8.400" result="m"/><feComposite in="SourceGraphic" in2="m" operator="in"/></filter><filter id="f58" x="0" y="0" width="1" height="1" color-interpolation-filters="sRGB"><feTurbulence type="fractalNoise" baseFrequency="0.112 0.33" numOctaves="2" seed="132"/><feColorMatrix type="matrix" values="0 0 0 0 0  0 0 0 0 0  0 0 0 0 0  14 0 0 0 -7.000" result="m"/><feComposite in="SourceGraphic" in2="m" operator="in"/></filter><filter id="f59" x="0" y="0" width="1" height="1" color-interpolation-filters="sRGB"><feTurbulence type="fractalNoise" baseFrequency="0.192 0.45" numOctaves="2" seed="133"/><feColorMatrix type="matrix" values="0 0 0 0 0  0 0 0 0 0  0 0 0 0 0  14 0 0 0 -8.680" result="m"/><feComposite in="SourceGraphic" in2="m" operator="in"/></filter><filter id="f60" x="0" y="0" width="1" height="1" color-interpolation-filters="sRGB"><feTurbulence type="fractalNoise" baseFrequency="0.16 0.42" numOctaves="2" seed="134"/><feColorMatrix type="matrix" values="0 0 0 0 0  0 0 0 0 0  0 0 0 0 0  14 0 0 0 -8.400" result="m"/><feComposite in="SourceGraphic" in2="m" operator="in"/></filter><filter id="f61" x="0" y="0" width="1" height="1" color-interpolation-filters="sRGB"><feTurbulence type="fractalNoise" baseFrequency="0.16 0.375" numOctaves="2" seed="135"/><feColorMatrix type="matrix" values="0 0 0 0 0  0 0 0 0 0  0 0 0 0 0  14 0 0 0 -8.120" result="m"/><feComposite in="SourceGraphic" in2="m" operator="in"/></filter><filter id="f62" x="0" y="0" width="1" height="1" color-interpolation-filters="sRGB"><feTurbulence type="fractalNoise" baseFrequency="0.128 0.33" numOctaves="2" seed="136"/><feColorMatrix type="matrix" values="0 0 0 0 0  0 0 0 0 0  0 0 0 0 0  14 0 0 0 -7.000" result="m"/><feComposite in="SourceGraphic" in2="m" operator="in"/></filter><filter id="f63" x="0" y="0" width="1" height="1" color-interpolation-filters="sRGB"><feTurbulence type="fractalNoise" baseFrequency="0.144 0.45" numOctaves="2" seed="137"/><feColorMatrix type="matrix" values="0 0 0 0 0  0 0 0 0 0  0 0 0 0 0  14 0 0 0 -6.860" result="m"/><feComposite in="SourceGraphic" in2="m" operator="in"/></filter><filter id="f64" x="0" y="0" width="1" height="1" color-interpolation-filters="sRGB"><feTurbulence type="fractalNoise" baseFrequency="0.144 0.45" numOctaves="2" seed="138"/><feColorMatrix type="matrix" values="0 0 0 0 0  0 0 0 0 0  0 0 0 0 0  14 0 0 0 -8.120" result="m"/><feComposite in="SourceGraphic" in2="m" operator="in"/></filter><filter id="f65" x="0" y="0" width="1" height="1" color-interpolation-filters="sRGB"><feTurbulence type="fractalNoise" baseFrequency="0.112 0.375" numOctaves="2" seed="139"/><feColorMatrix type="matrix" values="0 0 0 0 0  0 0 0 0 0  0 0 0 0 0  14 0 0 0 -5.880" result="m"/><feComposite in="SourceGraphic" in2="m" operator="in"/></filter><filter id="f66" x="0" y="0" width="1" height="1" color-interpolation-filters="sRGB"><feTurbulence type="fractalNoise" baseFrequency="0.112 0.375" numOctaves="2" seed="140"/><feColorMatrix type="matrix" values="0 0 0 0 0  0 0 0 0 0  0 0 0 0 0  14 0 0 0 -6.580" result="m"/><feComposite in="SourceGraphic" in2="m" operator="in"/></filter><filter id="f67" x="0" y="0" width="1" height="1" color-interpolation-filters="sRGB"><feTurbulence type="fractalNoise" baseFrequency="0.112 0.375" numOctaves="2" seed="141"/><feColorMatrix type="matrix" values="0 0 0 0 0  0 0 0 0 0  0 0 0 0 0  14 0 0 0 -5.880" result="m"/><feComposite in="SourceGraphic" in2="m" operator="in"/></filter><filter id="f68" x="0" y="0" width="1" height="1" color-interpolation-filters="sRGB"><feTurbulence type="fractalNoise" baseFrequency="0.128 0.33" numOctaves="2" seed="142"/><feColorMatrix type="matrix" values="0 0 0 0 0  0 0 0 0 0  0 0 0 0 0  14 0 0 0 -7.840" result="m"/><feComposite in="SourceGraphic" in2="m" operator="in"/></filter><filter id="f69" x="0" y="0" width="1" height="1" color-interpolation-filters="sRGB"><feTurbulence type="fractalNoise" baseFrequency="0.144 0.3" numOctaves="2" seed="143"/><feColorMatrix type="matrix" values="0 0 0 0 0  0 0 0 0 0  0 0 0 0 0  14 0 0 0 -5.880" result="m"/><feComposite in="SourceGraphic" in2="m" operator="in"/></filter><filter id="f70" x="0" y="0" width="1" height="1" color-interpolation-filters="sRGB"><feTurbulence type="fractalNoise" baseFrequency="0.192 0.45" numOctaves="2" seed="144"/><feColorMatrix type="matrix" values="0 0 0 0 0  0 0 0 0 0  0 0 0 0 0  14 0 0 0 -8.120" result="m"/><feComposite in="SourceGraphic" in2="m" operator="in"/></filter><filter id="f71" x="0" y="0" width="1" height="1" color-interpolation-filters="sRGB"><feTurbulence type="fractalNoise" baseFrequency="0.144 0.3" numOctaves="2" seed="145"/><feColorMatrix type="matrix" values="0 0 0 0 0  0 0 0 0 0  0 0 0 0 0  14 0 0 0 -6.720" result="m"/><feComposite in="SourceGraphic" in2="m" operator="in"/></filter><filter id="f72" x="0" y="0" width="1" height="1" color-interpolation-filters="sRGB"><feTurbulence type="fractalNoise" baseFrequency="0.16 0.45" numOctaves="2" seed="146"/><feColorMatrix type="matrix" values="0 0 0 0 0  0 0 0 0 0  0 0 0 0 0  14 0 0 0 -9.520" result="m"/><feComposite in="SourceGraphic" in2="m" operator="in"/></filter><filter id="f73" x="0" y="0" width="1" height="1" color-interpolation-filters="sRGB"><feTurbulence type="fractalNoise" baseFrequency="0.224 0.45" numOctaves="2" seed="147"/><feColorMatrix type="matrix" values="0 0 0 0 0  0 0 0 0 0  0 0 0 0 0  14 0 0 0 -9.240" result="m"/><feComposite in="SourceGraphic" in2="m" operator="in"/></filter><filter id="f74" x="0" y="0" width="1" height="1" color-interpolation-filters="sRGB"><feTurbulence type="fractalNoise" baseFrequency="0.12 0.15" numOctaves="2" seed="201"/><feColorMatrix type="matrix" values="0 0 0 0 0  0 0 0 0 0  0 0 0 0 0  14 0 0 0 -7.700" result="m"/><feComposite in="SourceGraphic" in2="m" operator="in"/></filter><filter id="f75" x="0" y="0" width="1" height="1" color-interpolation-filters="sRGB"><feTurbulence type="fractalNoise" baseFrequency="0.12 0.15" numOctaves="2" seed="202"/><feColorMatrix type="matrix" values="0 0 0 0 0  0 0 0 0 0  0 0 0 0 0  14 0 0 0 -7.980" result="m"/><feComposite in="SourceGraphic" in2="m" operator="in"/></filter><filter id="f76" x="0" y="0" width="1" height="1" color-interpolation-filters="sRGB"><feTurbulence type="fractalNoise" baseFrequency="0.12 0.15" numOctaves="2" seed="203"/><feColorMatrix type="matrix" values="0 0 0 0 0  0 0 0 0 0  0 0 0 0 0  14 0 0 0 -7.420" result="m"/><feComposite in="SourceGraphic" in2="m" operator="in"/></filter><filter id="f77" x="0" y="0" width="1" height="1" color-interpolation-filters="sRGB"><feTurbulence type="fractalNoise" baseFrequency="0.12 0.15" numOctaves="2" seed="204"/><feColorMatrix type="matrix" values="0 0 0 0 0  0 0 0 0 0  0 0 0 0 0  14 0 0 0 -7.000" result="m"/><feComposite in="SourceGraphic" in2="m" operator="in"/></filter><filter id="f78" x="0" y="0" width="1" height="1" color-interpolation-filters="sRGB"><feTurbulence type="fractalNoise" baseFrequency="0.1 0.14" numOctaves="2" seed="205"/><feColorMatrix type="matrix" values="0 0 0 0 0  0 0 0 0 0  0 0 0 0 0  14 0 0 0 -6.440" result="m"/><feComposite in="SourceGraphic" in2="m" operator="in"/></filter><filter id="f79" x="0" y="0" width="1" height="1" color-interpolation-filters="sRGB"><feTurbulence type="fractalNoise" baseFrequency="0.1 0.14" numOctaves="2" seed="206"/><feColorMatrix type="matrix" values="0 0 0 0 0  0 0 0 0 0  0 0 0 0 0  14 0 0 0 -6.440" result="m"/><feComposite in="SourceGraphic" in2="m" operator="in"/></filter><filter id="f80" x="0" y="0" width="1" height="1" color-interpolation-filters="sRGB"><feTurbulence type="fractalNoise" baseFrequency="0.1 0.14" numOctaves="2" seed="207"/><feColorMatrix type="matrix" values="0 0 0 0 0  0 0 0 0 0  0 0 0 0 0  14 0 0 0 -5.880" result="m"/><feComposite in="SourceGraphic" in2="m" operator="in"/></filter><filter id="f81" x="0" y="0" width="1" height="1" color-interpolation-filters="sRGB"><feTurbulence type="fractalNoise" baseFrequency="0.1 0.14" numOctaves="2" seed="208"/><feColorMatrix type="matrix" values="0 0 0 0 0  0 0 0 0 0  0 0 0 0 0  14 0 0 0 -6.300" result="m"/><feComposite in="SourceGraphic" in2="m" operator="in"/></filter><filter id="f82" x="0" y="0" width="1" height="1" color-interpolation-filters="sRGB"><feTurbulence type="fractalNoise" baseFrequency="0.14 0.4" numOctaves="2" seed="311"/><feColorMatrix type="matrix" values="0 0 0 0 0  0 0 0 0 0  0 0 0 0 0  14 0 0 0 -7.980" result="m"/><feComposite in="SourceGraphic" in2="m" operator="in"/></filter><filter id="f83" x="0" y="0" width="1" height="1" color-interpolation-filters="sRGB"><feTurbulence type="fractalNoise" baseFrequency="0.14 0.4" numOctaves="2" seed="312"/><feColorMatrix type="matrix" values="0 0 0 0 0  0 0 0 0 0  0 0 0 0 0  14 0 0 0 -8.820" result="m"/><feComposite in="SourceGraphic" in2="m" operator="in"/></filter><filter id="f84" x="0" y="0" width="1" height="1" color-interpolation-filters="sRGB"><feTurbulence type="fractalNoise" baseFrequency="0.14 0.4" numOctaves="2" seed="313"/><feColorMatrix type="matrix" values="0 0 0 0 0  0 0 0 0 0  0 0 0 0 0  14 0 0 0 -9.240" result="m"/><feComposite in="SourceGraphic" in2="m" operator="in"/></filter><filter id="f85" x="0" y="0" width="1" height="1" color-interpolation-filters="sRGB"><feTurbulence type="fractalNoise" baseFrequency="0.14 0.4" numOctaves="2" seed="314"/><feColorMatrix type="matrix" values="0 0 0 0 0  0 0 0 0 0  0 0 0 0 0  14 0 0 0 -9.520" result="m"/><feComposite in="SourceGraphic" in2="m" operator="in"/></filter><filter id="f86" x="0" y="0" width="1" height="1" color-interpolation-filters="sRGB"><feTurbulence type="fractalNoise" baseFrequency="0.14 0.4" numOctaves="2" seed="301"/><feColorMatrix type="matrix" values="0 0 0 0 0  0 0 0 0 0  0 0 0 0 0  14 0 0 0 -7.840" result="m"/><feComposite in="SourceGraphic" in2="m" operator="in"/></filter><filter id="f87" x="0" y="0" width="1" height="1" color-interpolation-filters="sRGB"><feTurbulence type="fractalNoise" baseFrequency="0.14 0.4" numOctaves="2" seed="302"/><feColorMatrix type="matrix" values="0 0 0 0 0  0 0 0 0 0  0 0 0 0 0  14 0 0 0 -8.680" result="m"/><feComposite in="SourceGraphic" in2="m" operator="in"/></filter><filter id="f88" x="0" y="0" width="1" height="1" color-interpolation-filters="sRGB"><feTurbulence type="fractalNoise" baseFrequency="0.14 0.4" numOctaves="2" seed="303"/><feColorMatrix type="matrix" values="0 0 0 0 0  0 0 0 0 0  0 0 0 0 0  14 0 0 0 -9.520" result="m"/><feComposite in="SourceGraphic" in2="m" operator="in"/></filter><filter id="f89" x="0" y="0" width="1" height="1" color-interpolation-filters="sRGB"><feTurbulence type="fractalNoise" baseFrequency="0.14 0.4" numOctaves="2" seed="304"/><feColorMatrix type="matrix" values="0 0 0 0 0  0 0 0 0 0  0 0 0 0 0  14 0 0 0 -9.520" result="m"/><feComposite in="SourceGraphic" in2="m" operator="in"/></filter>
<clipPath id="cpib"><use href="#ol" transform="matrix(0.347 0 0 0.347 484.60 -184.28)"/></clipPath>
<clipPath id="cpic"><use href="#ol" transform="matrix(0.3465 0 0 0.3465 -173.26 349.71)"/></clipPath>
<clipPath id="cpid"><use href="#ol" transform="matrix(0.3465 0 0 0.3465 485.04 349.71)"/></clipPath>
</defs>
<g transform="matrix(1.008 0 0 1.008 -666.05 -536.18)">
<g clip-path="url(#cp)"><rect x="680" y="640" width="600" height="380" fill="#ffa500"/><polygon points="683.0,670.0 708.0,645.0 758.0,682.5 808.0,720.0 858.0,717.5 874.2,717.5 874.2,712.5 906.8,702.5 958.0,697.5 1003.0,698.8 1003.0,717.5 983.0,717.5 978.0,725.0 970.5,735.0 963.0,745.0 958.0,755.0 948.0,762.5 933.0,770.0 923.0,780.0 908.0,785.0 893.0,790.0 878.0,792.5 863.0,792.5 848.0,795.0 838.0,790.0 823.0,785.0 808.0,782.5 798.0,780.0 788.0,775.0 778.0,775.0 768.0,772.5 758.0,770.0 753.0,777.5 750.5,770.0 746.8,745.0 708.0,720.0" fill="#ff0000" /><polygon points="965.0,698.8 1037.5,697.5 1037.5,705.0 1070.0,702.0 1076.2,717.5 1070.0,727.5 1077.5,742.5 1095.0,752.5 1112.5,762.5 1122.5,775.0 1117.5,785.0 1102.5,780.0 1085.0,777.5 1070.0,770.0 1055.0,770.0 1040.0,762.5 1025.0,752.5 1015.0,752.5 1005.0,762.5 990.0,770.0 977.5,765.0 965.0,762.5" fill="#ff0000" /><g transform="rotate(25 797.4 722.6)"><polygon points="712.0,715.4 755.3,725.6 789.9,728.7 816.8,727.2 843.4,713.4 859.4,700.4 862.1,706.1 846.6,720.2 819.9,734.0 789.6,739.9 755.0,736.7 718.5,723.4" fill="#ffa500" filter="url(#f0)"/></g><g transform="rotate(20 957.2 753.1)"><polygon points="912.9,731.3 987.6,702.8 1011.1,767.4 967.1,778.1 941.9,781.9 922.3,757.2" fill="#ffa500" filter="url(#f1)"/></g><g transform="rotate(25 1029.2 761.0)"><polygon points="951.6,746.5 985.6,730.6 1009.6,752.5 1040.7,760.1 1071.0,754.2 1118.2,748.8 1096.6,761.6 1047.0,773.7 999.6,790.3 972.7,791.8" fill="#ffa500" filter="url(#f2)"/></g><g transform="rotate(20 859.8 802.0)"><polygon points="746.1,809.3 973.2,694.7 992.0,746.4 951.4,766.5 907.8,793.0 866.0,824.2 838.2,850.3 801.9,852.9 768.6,849.0 752.3,833.6" fill="#ff0000" filter="url(#f3)"/></g><g transform="rotate(30 846.8 848.1)"><polygon points="726.7,867.7 781.8,853.1 822.1,853.0 844.9,822.5 955.5,724.0 1015.5,827.9 846.6,925.4 780.8,911.4" fill="#ff0000" filter="url(#f4)"/></g><g transform="rotate(30 908.0 925.0)"><polygon points="785.9,943.5 950.3,808.2 1025.3,938.1 930.5,964.0 848.0,971.2" fill="#ff0000" filter="url(#f5)"/></g><g transform="rotate(25 1031.4 814.3)"><polygon points="970.3,804.9 1123.8,755.5 1132.2,773.6 1043.7,820.4 1006.9,859.6 984.2,870.2 958.8,815.8" fill="#ff0000" filter="url(#f6)"/></g><g transform="rotate(40 1110.7 745.7)"><polygon points="1051.4,738.4 1059.1,720.2 1082.2,705.1 1121.8,728.9 1161.3,754.6 1166.1,770.1 1148.2,772.0 1122.9,757.4 1083.2,764.6" fill="#ff0000" filter="url(#f7)"/></g><g transform="rotate(25 1064.3 827.1)"><polygon points="978.5,842.7 1018.7,846.0 1039.3,830.9 1057.7,811.3 1078.2,796.2 1103.0,790.2 1124.6,777.3 1134.4,786.6 1136.2,802.3 1124.7,813.1 1111.5,808.3 1095.7,810.1 1080.0,811.9 1066.4,818.3 1055.0,829.1 1051.2,844.7 1038.5,858.9 1030.3,871.0 1023.4,879.7 1009.0,872.6 993.5,868.8" fill="#e0fbbd" filter="url(#f8)"/></g><g transform="rotate(25 958.8 885.9)"><polygon points="913.4,908.8 930.8,886.9 949.2,867.3 966.6,845.4 979.4,825.6 990.8,820.4 1018.2,879.3 989.8,895.3 971.4,914.9 951.4,931.1 930.6,933.9 914.2,922.3" fill="#e0fbbd" filter="url(#f9)"/></g><g transform="rotate(30 857.6 919.8)"><polygon points="792.9,917.0 808.4,913.8 835.7,921.1 858.0,919.8 877.9,914.1 897.7,908.4 908.8,907.8 905.2,921.4 884.1,924.9 864.3,930.6 842.0,931.9 815.9,926.8" fill="#e0fbbd" filter="url(#f10)"/></g><g transform="rotate(25 966.9 847.5)"><polygon points="917.3,840.3 933.6,816.1 960.8,803.5 975.8,829.6 991.3,833.4 1005.7,840.5 992.8,860.3 985.3,891.4 939.9,912.5" fill="#e0fbbd" filter="url(#f11)"/></g><g transform="rotate(25 1076.0 827.8)"><polygon points="1028.7,841.2 1057.4,814.1 1083.6,799.1 1112.9,791.0 1134.2,789.3 1141.6,805.2 1126.6,820.4 1103.2,817.5 1081.9,819.2 1068.3,825.5 1056.8,836.4 1053.0,852.0 1040.4,866.2 1027.7,880.3 1023.7,860.1" fill="#78ff00" filter="url(#f12)"/></g><g transform="rotate(25 1076.0 827.8)"><polygon points="1028.7,841.2 1057.4,814.1 1083.6,799.1 1112.9,791.0 1134.2,789.3 1141.6,805.2 1126.6,820.4 1103.2,817.5 1081.9,819.2 1068.3,825.5 1056.8,836.4 1053.0,852.0 1040.4,866.2 1027.7,880.3 1023.7,860.1" fill="#ffffff" filter="url(#f13)"/></g><polygon points="1005.0,857.5 1027.5,845.0 1045.0,837.5 1055.0,825.0 1070.0,820.0 1085.0,820.0 1100.0,825.0 1115.0,830.0 1127.5,845.0 1140.0,840.0 1147.5,830.0 1150.0,815.0 1140.0,807.5 1140.0,775.0 1137.5,752.5 1125.0,725.0 1145.0,720.0 1165.0,725.0 1190.0,745.0 1215.0,760.0 1215.0,795.0 1190.0,820.0 1165.0,850.0 1140.0,875.0 1115.0,900.0 1130.0,920.0 1135.0,945.0 1127.5,975.0 1105.0,965.0 1075.0,945.0 1060.0,937.5 1027.5,960.0 997.5,977.5 982.5,985.0 975.0,970.0 965.0,965.0 965.0,907.5 982.5,906.2 980.0,890.0 985.0,875.0" fill="#78ff00" /><g transform="rotate(30 975.9 923.6)"><polygon points="939.9,917.1 955.3,873.6 971.9,852.4 1029.4,952.0 1005.3,960.2 976.1,959.7 953.1,949.9" fill="#78ff00" filter="url(#f14)"/></g><g transform="rotate(30 1091.1 859.1)"><polygon points="1015.7,900.7 1029.0,878.7 1040.4,863.4 1042.8,847.6 1053.3,835.8 1066.3,828.3 1081.8,825.1 1097.2,821.9 1115.6,828.7 1123.9,818.1 1125.4,805.7 1120.1,791.4 1107.6,789.9 1091.4,761.8 1078.0,743.6 1053.4,726.0 1068.2,711.7 1088.0,706.0 1119.7,710.8 1148.8,711.3 1166.3,741.6 1157.2,775.8 1150.5,814.2 1141.4,848.4 1132.2,882.6 1155.2,892.4 1172.1,911.5 1180.6,941.3 1156.1,943.8 1120.1,941.5 1103.4,942.5 1086.5,978.3 1069.2,1008.4 1060.0,1022.4 1046.0,1013.2 1034.8,1013.8 1006.1,964.0 1020.6,954.2 1010.3,941.4 1007.2,925.9" fill="#e0fbbd" filter="url(#f15)"/></g><g transform="rotate(30 979.2 916.9)"><polygon points="940.6,902.4 974.8,856.7 1028.5,949.8 973.1,958.7" fill="#e0fbbd" filter="url(#f16)"/></g><polygon points="997.5,915.0 1015.0,905.0 1030.0,885.0 1040.0,882.0 1075.0,892.5 1085.0,905.0 1090.0,925.0 1095.0,945.0 1100.0,965.0 1090.0,957.5 1072.5,947.5 1060.0,937.5 1047.5,945.0 1027.5,960.0 1010.0,970.0 997.5,977.5 1000.0,967.5 993.8,952.5 998.8,937.5" fill="#c4f08a" /><g transform="rotate(35 1043.4 935.4)"><polygon points="994.1,945.0 1002.7,926.8 1003.5,901.8 1010.0,893.6 1044.7,882.1 1060.1,886.6 1075.6,900.2 1091.2,913.7 1106.8,927.2 1094.3,926.8 1074.2,928.6 1058.2,927.6 1052.3,940.9 1044.5,964.7 1035.9,982.9 1030.0,996.2 1026.3,986.6 1012.6,977.9 1008.1,962.7" fill="#ffa500" filter="url(#f17)"/></g><g transform="rotate(35 1043.4 935.4)"><polygon points="994.1,945.0 1002.7,926.8 1003.5,901.8 1010.0,893.6 1044.7,882.1 1060.1,886.6 1075.6,900.2 1091.2,913.7 1106.8,927.2 1094.3,926.8 1074.2,928.6 1058.2,927.6 1052.3,940.9 1044.5,964.7 1035.9,982.9 1030.0,996.2 1026.3,986.6 1012.6,977.9 1008.1,962.7" fill="#78ff00" filter="url(#f18)"/></g><g transform="rotate(35 1043.4 935.4)"><polygon points="994.1,945.0 1002.7,926.8 1003.5,901.8 1010.0,893.6 1044.7,882.1 1060.1,886.6 1075.6,900.2 1091.2,913.7 1106.8,927.2 1094.3,926.8 1074.2,928.6 1058.2,927.6 1052.3,940.9 1044.5,964.7 1035.9,982.9 1030.0,996.2 1026.3,986.6 1012.6,977.9 1008.1,962.7" fill="#ff0000" filter="url(#f19)"/></g><g transform="rotate(35 1043.4 935.4)"><polygon points="994.1,945.0 1002.7,926.8 1003.5,901.8 1010.0,893.6 1044.7,882.1 1060.1,886.6 1075.6,900.2 1091.2,913.7 1106.8,927.2 1094.3,926.8 1074.2,928.6 1058.2,927.6 1052.3,940.9 1044.5,964.7 1035.9,982.9 1030.0,996.2 1026.3,986.6 1012.6,977.9 1008.1,962.7" fill="#ffffff" filter="url(#f20)"/></g><polygon points="965.0,935.0 995.0,925.0 998.8,937.5 993.8,952.5 1002.5,972.5 990.0,981.2 976.2,972.5 965.0,965.0" fill="#ffa500" /><g transform="rotate(35 985.8 955.2)"><polygon points="957.2,950.6 976.0,925.2 986.3,933.3 990.8,948.4 1009.4,959.8 1004.2,974.1 987.9,974.8 974.4,975.1" fill="#ff0000" filter="url(#f21)"/></g><g transform="rotate(35 985.8 955.2)"><polygon points="957.2,950.6 976.0,925.2 986.3,933.3 990.8,948.4 1009.4,959.8 1004.2,974.1 987.9,974.8 974.4,975.1" fill="#78ff00" filter="url(#f22)"/></g><polygon points="1065.0,942.5 1072.5,947.5 1090.0,957.5 1115.0,970.0 1127.5,975.0 1140.0,995.0 1125.0,995.0 1113.8,995.0 1106.2,977.5 1097.5,975.0 1086.2,986.2 1072.5,976.2 1065.0,973.8 1075.0,980.0 1072.5,970.0 1060.0,962.5 1055.0,952.5" fill="#78ff00" /><g transform="rotate(35 1090.5 972.4)"><polygon points="1052.4,962.5 1061.5,962.3 1081.5,960.5 1109.2,956.4 1122.3,953.3 1144.0,962.5 1131.7,971.1 1122.5,977.6 1106.3,967.6 1097.7,970.5 1095.0,986.2 1078.0,985.9 1070.4,988.1 1082.1,987.5 1074.4,980.8 1059.8,981.8 1050.0,976.5" fill="#007000" filter="url(#f23)"/></g><g transform="rotate(35 1090.5 972.4)"><polygon points="1052.4,962.5 1061.5,962.3 1081.5,960.5 1109.2,956.4 1122.3,953.3 1144.0,962.5 1131.7,971.1 1122.5,977.6 1106.3,967.6 1097.7,970.5 1095.0,986.2 1078.0,985.9 1070.4,988.1 1082.1,987.5 1074.4,980.8 1059.8,981.8 1050.0,976.5" fill="#ffa500" filter="url(#f24)"/></g><polygon points="1130.0,722.5 1155.0,720.0 1180.0,737.5 1200.0,740.0 1217.5,757.5 1265.0,745.0 1265.0,1003.8 1151.2,1003.8 1140.0,995.0 1125.0,990.0 1127.5,975.0 1115.0,970.0 1100.0,965.0 1095.0,945.0 1090.0,925.0 1085.0,905.0 1090.0,890.0 1095.0,885.0 1085.0,875.0 1090.0,862.5 1080.0,850.0 1085.0,835.0 1100.0,830.0 1115.0,835.0 1125.0,845.0 1140.0,840.0 1145.0,830.0 1150.0,815.0 1155.0,800.0 1165.0,805.0 1180.0,805.0 1190.0,800.0 1185.0,790.0 1175.0,785.0 1165.0,790.0 1155.0,795.0 1145.0,785.0 1140.0,770.0 1137.5,750.0 1140.0,735.0" fill="#007000" /><g transform="rotate(35 1030.8 882.2)"><polygon points="989.2,902.6 991.6,888.7 1008.0,877.2 1027.1,860.8 1043.2,840.3 1052.7,827.6 1068.0,832.1 1071.1,845.2 1068.6,859.2 1057.8,869.8 1037.8,876.2 1031.8,885.0 1036.3,900.1 1031.0,909.9 1026.5,925.3 1016.2,932.5 1004.3,928.6 993.7,917.7" fill="#007000" filter="url(#f25)"/></g><g transform="rotate(35 1109.1 834.8)"><polygon points="1044.0,862.3 1080.9,836.5 1130.0,832.6 1123.9,775.9 1074.3,731.2 1152.9,712.8 1166.9,776.3 1157.5,850.0 1151.3,884.8 1137.4,882.4 1109.3,868.5 1094.0,864.0 1068.4,897.1 1036.8,913.1" fill="#007000" filter="url(#f26)"/></g><polygon points="982.5,985.0 995.0,977.5 1015.0,970.0 1035.0,957.5 1050.0,945.0 1060.0,937.5 1065.0,942.5 1055.0,952.5 1060.0,962.5 1072.5,970.0 1075.0,980.0 1065.0,973.8 1056.2,976.2 1040.0,983.8 1025.0,993.8 1018.8,998.8 995.0,998.0 982.5,993.5" fill="#007000" /><g transform="rotate(35 996.1 879.4)"><polygon points="973.6,874.5 991.9,852.6 1017.7,889.5 1001.3,900.9" fill="#007000" filter="url(#f27)"/></g><g transform="rotate(50 1141.8 842.6)"><polygon points="1042.3,774.5 1056.4,753.7 1085.9,745.8 1100.7,732.1 1125.3,729.9 1146.3,685.5 1344.5,851.8 1271.4,939.0 1257.4,942.0 1244.0,950.2 1234.1,938.7 1222.2,945.0 1208.7,953.3 1190.2,944.3 1171.7,935.3 1153.1,926.2 1144.9,912.8 1144.2,905.7 1130.2,907.0 1123.8,895.1 1107.8,894.7 1099.5,881.2 1105.3,866.5 1118.8,858.3 1132.9,857.0 1138.7,842.3 1134.2,832.1 1126.0,818.6 1117.7,805.1 1128.0,800.7 1137.6,789.2 1140.2,778.3 1129.3,775.7 1119.1,780.2 1116.5,791.0 1113.9,801.9 1099.8,803.1 1085.1,797.3 1068.1,786.4 1058.3,774.8" fill="#78ff00" filter="url(#f28)"/></g><g transform="rotate(60 1161.5 931.2)"><polygon points="1068.5,919.7 1091.9,829.3 1251.0,921.1 1219.1,976.3 1182.4,982.5 1155.8,958.5" fill="#78ff00" filter="url(#f29)"/></g><g transform="rotate(40 1141.8 842.6)"><polygon points="1055.6,758.2 1073.1,740.2 1103.5,737.6 1120.5,726.6 1145.1,728.8 1173.5,688.7 1339.8,886.9 1252.7,960.0 1238.4,960.5 1223.7,966.3 1216.0,953.2 1203.2,957.4 1188.5,963.3 1171.8,951.1 1155.1,939.0 1138.4,926.9 1132.6,912.2 1133.2,905.2 1119.1,903.9 1114.9,891.2 1099.2,888.0 1093.4,873.3 1101.7,859.8 1116.4,854.0 1130.5,855.3 1138.8,841.8 1136.2,830.9 1130.4,816.2 1124.6,801.5 1135.4,798.9 1146.9,789.3 1151.4,779.0 1141.1,774.6 1130.2,777.2 1125.8,787.4 1121.3,797.7 1107.3,796.4 1093.8,788.2 1079.0,774.4 1071.3,761.3" fill="#ffffff" filter="url(#f30)"/></g><g transform="rotate(55 1110.6 926.2)"><polygon points="1056.4,931.8 1069.5,904.3 1110.1,890.0 1145.7,908.8 1164.5,934.2 1143.2,956.0 1117.0,949.8 1078.5,935.1" fill="#ffffff" filter="url(#f31)"/></g><g transform="rotate(55 1110.6 926.2)"><polygon points="1056.4,931.8 1069.5,904.3 1110.1,890.0 1145.7,908.8 1164.5,934.2 1143.2,956.0 1117.0,949.8 1078.5,935.1" fill="#78ff00" filter="url(#f32)"/></g><g transform="rotate(55 1110.6 926.2)"><polygon points="1056.4,931.8 1069.5,904.3 1110.1,890.0 1145.7,908.8 1164.5,934.2 1143.2,956.0 1117.0,949.8 1078.5,935.1" fill="#ffa500" filter="url(#f33)"/></g><g transform="rotate(35 1175.0 774.4)"><polygon points="1140.5,768.8 1154.0,753.2 1176.1,749.9 1197.0,753.6 1201.5,768.8 1201.9,786.8 1185.6,798.2 1167.5,798.7 1150.7,792.1" fill="#ffa500" filter="url(#f34)"/></g><g transform="rotate(35 1175.0 774.4)"><polygon points="1140.5,768.8 1154.0,753.2 1176.1,749.9 1197.0,753.6 1201.5,768.8 1201.9,786.8 1185.6,798.2 1167.5,798.7 1150.7,792.1" fill="#78ff00" filter="url(#f35)"/></g><g transform="rotate(45 1137.5 748.0)"><polygon points="1085.0,727.3 1111.5,718.5 1131.9,714.0 1133.6,726.4 1140.7,747.6 1154.9,761.8 1169.0,768.8 1176.1,783.0 1161.9,775.9 1137.2,758.2 1110.7,745.9" fill="#78ff00" filter="url(#f36)"/></g><g transform="rotate(45 1137.5 748.0)"><polygon points="1085.0,727.3 1111.5,718.5 1131.9,714.0 1133.6,726.4 1140.7,747.6 1154.9,761.8 1169.0,768.8 1176.1,783.0 1161.9,775.9 1137.2,758.2 1110.7,745.9" fill="#007000" filter="url(#f37)"/></g><polygon points="1000.0,715.0 1015.0,710.0 1035.0,705.0 1050.0,707.5 1060.0,712.5 1065.0,722.5 1062.5,730.0 1052.5,737.5 1047.5,745.0 1037.5,747.5 1027.5,745.0 1020.0,750.0 1015.0,742.5 1007.5,730.0 1000.0,722.5" fill="#ffffff" /><polygon points="874.2,713.0 906.8,703.5 914.8,712.0 903.0,718.0 898.0,720.0 874.2,718.8" fill="#ffffff" /><polygon points="1047.5,745.0 1062.5,741.2 1075.0,750.0 1087.5,757.5 1100.0,765.0 1112.5,775.0 1100.0,777.5 1082.5,772.5 1070.0,767.5 1057.5,762.5 1047.5,755.0" fill="#ffffff" /><polygon points="1013.8,748.8 1027.5,752.5 1040.0,762.5 1051.2,772.5 1040.0,773.8 1026.2,767.5 1016.2,758.8" fill="#ffffff" /><polygon points="783.0,743.8 793.0,745.0 808.0,750.0 813.0,757.5 800.5,758.8 788.0,751.2" fill="#ffffff" /><polygon points="920.5,752.5 930.5,750.0 929.2,756.2 923.0,757.5" fill="#ffffff" /><polygon points="930.5,865.0 945.5,863.8 945.5,875.0 933.0,876.2" fill="#ffffff" /><polygon points="958.0,897.5 970.5,892.5 973.0,900.0 960.5,905.0" fill="#ffffff" /><g transform="rotate(40 1053.3 748.8)"><polygon points="967.4,760.5 1038.6,697.5 1128.9,719.6 1116.2,743.3 1060.0,777.4 1008.8,794.2" fill="#ffffff" filter="url(#f38)"/></g><g transform="rotate(25 786.8 737.5)"><polygon points="692.1,720.9 748.0,722.5 813.7,733.2 870.2,712.4 880.8,735.0 821.9,762.5 756.9,765.2 710.4,748.3" fill="#ffffff" filter="url(#f39)"/></g></g>
<use href="#bd" fill="none" stroke="#555" stroke-width="1.3" stroke-linejoin="round"/>
<use href="#ol" fill="none" stroke="#4d4d4d" stroke-width="1.6" stroke-linejoin="round"/>
<text class="rl" x="875.25" y="731.25">HIID2</text>
<text class="rl" x="858.4" y="763.75">HID1</text>
<text class="rl" x="1066.25" y="745">HIID1</text>
<text class="rl" x="1174.4" y="778.75">HIIC1</text>
<text class="rl" x="760.9" y="829.5">HIID3</text>
<text class="rl" x="882" y="852.5">HIC2</text>
<text class="rl" x="1052.9" y="808.75">HIC1</text>
<text class="rl" x="1180.9" y="857.5">HIB1</text>
<text class="rl" x="1108.25" y="927.5">HIIA/B1</text>
<text class="rl" x="935.5" y="946.25">HIIC2</text>
<text class="rl" x="1056" y="966.25">HIIIA1</text>
</g>
<rect x="25.25" y="28.25" width="578.55" height="489.35" fill="none" stroke="#000" stroke-width="1.6"/>
<line x1="172" y1="28.25" x2="172" y2="22.75" stroke="#000" stroke-width="1.2"/>
<text class="tkb" text-anchor="middle" x="172" y="19.75">80°E</text>
<line x1="347.5" y1="28.25" x2="347.5" y2="22.75" stroke="#000" stroke-width="1.2"/>
<text class="tkb" text-anchor="middle" x="347.5" y="19.75">90°E</text>
<line x1="516.75" y1="28.25" x2="516.75" y2="22.75" stroke="#000" stroke-width="1.2"/>
<text class="tkb" text-anchor="middle" x="516.75" y="19.75">100°E</text>
<line x1="46.25" y1="517.6" x2="46.25" y2="523.1" stroke="#000" stroke-width="1.2"/>
<text class="tkb" text-anchor="middle" x="46.25" y="535.1">80°E</text>
<line x1="272.5" y1="517.6" x2="272.5" y2="523.1" stroke="#000" stroke-width="1.2"/>
<text class="tkb" text-anchor="middle" x="272.5" y="535.1">90°E</text>
<line x1="491.75" y1="517.6" x2="491.75" y2="523.1" stroke="#000" stroke-width="1.2"/>
<text class="tkb" text-anchor="middle" x="491.75" y="535.1">100°E</text>
<line x1="25.25" y1="71.75" x2="19.75" y2="71.75" stroke="#000" stroke-width="1.2"/>
<text class="tkb" text-anchor="middle" transform="translate(16.75 71.75) rotate(-90)">40°N</text>
<line x1="25.25" y1="200" x2="19.75" y2="200" stroke="#000" stroke-width="1.2"/>
<text class="tkb" text-anchor="middle" transform="translate(16.75 200) rotate(-90)">35°N</text>
<line x1="25.25" y1="327" x2="19.75" y2="327" stroke="#000" stroke-width="1.2"/>
<text class="tkb" text-anchor="middle" transform="translate(16.75 327) rotate(-90)">30°N</text>
<line x1="25.25" y1="451.75" x2="19.75" y2="451.75" stroke="#000" stroke-width="1.2"/>
<text class="tkb" text-anchor="middle" transform="translate(16.75 451.75) rotate(-90)">25°N</text>
<line x1="603.8" y1="44.5" x2="609.3" y2="44.5" stroke="#000" stroke-width="1.2"/>
<text class="tkb" text-anchor="middle" transform="translate(621.0999999999999 44.5) rotate(-90)">45°N</text>
<line x1="603.8" y1="165.75" x2="609.3" y2="165.75" stroke="#000" stroke-width="1.2"/>
<text class="tkb" text-anchor="middle" transform="translate(621.0999999999999 165.75) rotate(-90)">40°N</text>
<line x1="603.8" y1="288" x2="609.3" y2="288" stroke="#000" stroke-width="1.2"/>
<text class="tkb" text-anchor="middle" transform="translate(621.0999999999999 288) rotate(-90)">35°N</text>
<line x1="603.8" y1="409.5" x2="609.3" y2="409.5" stroke="#000" stroke-width="1.2"/>
<text class="tkb" text-anchor="middle" transform="translate(621.0999999999999 409.5) rotate(-90)">30°N</text>
<g transform="translate(-0.5 -536.5)">
<g clip-path="url(#cp)"><rect x="680" y="640" width="600" height="380" fill="#fcc28e"/><g transform="rotate(25 857.3 816.4)"><polygon points="637.4,757.4 649.5,724.2 938.0,644.8 1007.5,722.7 1079.9,937.2 921.3,1011.2 767.3,917.5" fill="#a8f098" filter="url(#f40)"/></g><g transform="rotate(25 857.3 816.4)"><polygon points="637.4,757.4 649.5,724.2 938.0,644.8 1007.5,722.7 1079.9,937.2 921.3,1011.2 767.3,917.5" fill="#22c43a" filter="url(#f41)"/></g><g transform="rotate(25 857.3 816.4)"><polygon points="637.4,757.4 649.5,724.2 938.0,644.8 1007.5,722.7 1079.9,937.2 921.3,1011.2 767.3,917.5" fill="#ff8468" filter="url(#f42)"/></g><g transform="rotate(35 1129.6 825.4)"><polygon points="892.3,817.1 1035.7,716.7 1153.6,689.0 1247.6,736.1 1362.4,900.0 1085.9,1093.6" fill="#a8f098" filter="url(#f43)"/></g><g transform="rotate(35 1129.6 825.4)"><polygon points="892.3,817.1 1035.7,716.7 1153.6,689.0 1247.6,736.1 1362.4,900.0 1085.9,1093.6" fill="#22c43a" filter="url(#f44)"/></g><g transform="rotate(35 1129.6 825.4)"><polygon points="892.3,817.1 1035.7,716.7 1153.6,689.0 1247.6,736.1 1362.4,900.0 1085.9,1093.6" fill="#ff8468" filter="url(#f45)"/></g><g transform="rotate(25 885.9 825.0)"><polygon points="771.2,834.4 975.1,739.3 1004.9,797.1 914.4,833.8 848.5,870.0 801.4,875.4" fill="#22c43a" filter="url(#f46)"/></g><g transform="rotate(25 908.0 921.0)"><polygon points="773.5,916.4 878.0,856.7 968.5,820.0 1038.2,969.5 881.9,1042.4" fill="#ff8468" filter="url(#f47)"/></g><g transform="rotate(30 958.0 890.2)"><polygon points="904.6,897.7 922.5,878.7 945.4,868.4 969.5,860.2 986.5,844.6 1021.5,905.3 994.5,903.5 970.4,911.7 943.7,915.5 921.4,916.9" fill="#e8281e" filter="url(#f48)"/></g><g transform="rotate(35 1071.3 860.8)"><polygon points="1027.6,835.5 1041.1,820.0 1063.2,816.7 1081.3,816.3 1103.4,813.0 1116.9,797.4 1130.8,799.9 1147.6,806.4 1145.2,820.3 1130.0,824.9 1114.9,829.4 1109.5,839.2 1103.0,856.0 1096.4,872.8 1084.1,881.4 1064.9,888.8 1055.5,901.5 1050.6,929.3 1035.8,951.9 1023.5,960.5 1010.4,933.0 1005.9,917.9 1015.1,896.1 1026.4,873.0 1036.4,856.8 1035.4,842.3" fill="#e8281e" filter="url(#f49)"/></g><g transform="rotate(35 1071.3 860.8)"><polygon points="1027.6,835.5 1041.1,820.0 1063.2,816.7 1081.3,816.3 1103.4,813.0 1116.9,797.4 1130.8,799.9 1147.6,806.4 1145.2,820.3 1130.0,824.9 1114.9,829.4 1109.5,839.2 1103.0,856.0 1096.4,872.8 1084.1,881.4 1064.9,888.8 1055.5,901.5 1050.6,929.3 1035.8,951.9 1023.5,960.5 1010.4,933.0 1005.9,917.9 1015.1,896.1 1026.4,873.0 1036.4,856.8 1035.4,842.3" fill="#b01010" filter="url(#f50)"/></g><g transform="rotate(45 1165.3 845.6)"><polygon points="1132.8,841.9 1147.0,834.8 1171.7,831.3 1192.9,838.3 1192.9,852.5 1178.8,859.5 1161.1,856.0 1145.2,850.7" fill="#e8281e" filter="url(#f51)"/></g><g transform="rotate(35 985.2 934.1)"><polygon points="937.6,901.3 951.2,885.8 983.7,914.8 998.3,929.1 1002.8,944.2 1021.4,955.6 999.9,970.7 986.4,971.0" fill="#e8281e" filter="url(#f52)"/></g><g transform="rotate(55 1129.0 943.5)"><polygon points="1056.3,958.5 1067.3,929.6 1103.8,912.4 1142.7,909.1 1180.0,916.9 1191.2,959.8 1177.5,964.0 1142.7,970.2 1099.7,970.6" fill="#e8281e" filter="url(#f53)"/></g><g transform="rotate(50 1106.9 913.5)"><polygon points="1037.7,998.3 1041.3,978.4 1035.6,954.1 1039.8,944.5 1070.3,924.4 1077.4,904.3 1076.2,870.7 1098.7,863.4 1127.5,858.2 1122.4,819.6 1149.9,819.9 1144.8,792.8 1124.9,777.7 1139.1,747.2 1278.2,867.2 1205.9,953.4 1167.2,937.3 1129.7,954.7 1095.1,964.9 1091.5,1004.2 1085.6,1038.4 1064.0,1025.3 1055.8,1011.8" fill="#ffffff" filter="url(#f54)"/></g><g transform="rotate(60 1209.5 914.2)"><polygon points="1154.6,910.8 1160.4,833.3 1257.6,892.4 1269.7,971.5 1205.2,963.2" fill="#8a4a10" filter="url(#f55)"/></g><g transform="rotate(40 1041.1 928.5)"><polygon points="999.0,946.2 1010.4,893.6 1043.9,879.1 1082.7,902.0 1061.4,923.2 1050.9,961.4 1039.2,994.0" fill="#8a4a10" filter="url(#f56)"/></g><polygon points="683.0,670.0 708.0,645.0 758.0,682.5 808.0,720.0 874.2,716.2 874.2,712.5 906.8,702.5 958.0,697.5 1003.0,698.8 1003.0,752.5 958.0,752.5 933.0,755.0 908.0,757.5 883.0,762.5 858.0,767.5 823.0,770.0 803.0,765.0 783.0,755.0 763.0,745.0 748.0,740.0 746.8,745.0 708.0,720.0" fill="#ffffff" /><g transform="rotate(20 840.5 728.8)"><polygon points="672.4,727.4 687.3,695.4 747.2,713.5 807.0,731.6 867.9,705.5 866.7,701.9 893.8,681.4 940.2,659.2 982.9,645.0 1001.3,695.5 959.0,710.9 936.4,721.8 913.8,732.7 892.0,745.9 870.2,759.2 838.2,773.5 817.7,775.6 795.4,773.1 773.2,770.5 757.4,771.0 758.0,776.1 713.0,765.8" fill="#0a7d0a" filter="url(#f57)"/></g><g transform="rotate(20 949.0 733.8)"><polygon points="891.2,724.2 987.8,682.4 1006.2,732.9 941.2,759.2 918.6,770.1" fill="#0a7d0a" filter="url(#f58)"/></g><polygon points="705.5,657.5 733.0,682.5 758.0,702.5 783.0,720.0 803.0,730.0 823.0,733.0 843.0,731.8 858.0,728.0 875.5,723.0 865.5,733.0 843.0,738.5 823.0,739.5 803.0,737.0 783.0,728.8 758.0,713.8 733.0,693.8 710.5,673.8" fill="#0a7d0a" /><g transform="rotate(30 794.2 715.7)"><polygon points="688.3,709.6 724.6,717.5 756.3,722.4 786.7,725.0 809.0,723.7 827.8,716.3 844.5,705.2 855.6,694.4 868.3,681.4 864.6,695.0 847.9,711.0 831.1,721.9 812.5,729.7 791.0,732.6 761.9,732.1 730.2,727.3 700.8,721.2" fill="#c08040" filter="url(#f59)"/></g><polygon points="748.0,740.0 763.0,745.0 783.0,755.0 803.0,765.0 823.0,770.0 858.0,767.5 883.0,762.5 908.0,757.5 933.0,755.0 958.0,752.5 1005.5,750.0 1005.5,785.0 983.0,785.0 958.0,790.0 933.0,795.0 908.0,800.0 883.0,805.0 858.0,807.5 838.0,810.0 823.0,820.0 808.0,825.0 793.0,815.0 783.0,800.0 778.0,785.0 768.0,775.0 753.0,767.5 746.8,752.5" fill="#0a7d0a" /><g transform="rotate(20 855.0 779.2)"><polygon points="741.1,779.0 756.9,778.5 779.1,781.1 801.3,783.6 821.8,781.5 853.8,767.2 875.6,753.9 897.4,740.7 920.0,729.8 942.7,718.9 986.4,700.3 998.4,733.2 977.3,740.9 955.5,754.1 933.7,767.4 911.9,780.6 890.1,793.9 867.5,804.8 849.6,814.0 838.9,828.5 826.5,838.3 809.0,834.0 794.5,823.4 784.6,811.0 771.8,805.0 755.2,803.1 744.2,791.1" fill="#ffffff" filter="url(#f60)"/></g><g transform="rotate(20 855.0 779.2)"><polygon points="741.1,779.0 756.9,778.5 779.1,781.1 801.3,783.6 821.8,781.5 853.8,767.2 875.6,753.9 897.4,740.7 920.0,729.8 942.7,718.9 986.4,700.3 998.4,733.2 977.3,740.9 955.5,754.1 933.7,767.4 911.9,780.6 890.1,793.9 867.5,804.8 849.6,814.0 838.9,828.5 826.5,838.3 809.0,834.0 794.5,823.4 784.6,811.0 771.8,805.0 755.2,803.1 744.2,791.1" fill="#22c43a" filter="url(#f61)"/></g><g transform="rotate(25 841.8 807.9)"><polygon points="732.3,797.8 744.3,808.8 761.0,809.2 774.3,814.1 785.2,825.6 800.6,834.9 818.4,837.7 829.9,826.8 839.3,811.4 856.3,800.7 898.5,772.7 939.6,742.5 980.5,717.9 995.3,749.7 956.5,778.8 913.3,804.5 872.2,834.7 844.7,858.5 807.7,862.0 777.8,851.1 749.4,825.7" fill="#0a7d0a" filter="url(#f62)"/></g><polygon points="947.5,698.8 980.0,707.5 997.5,732.5 1015.0,755.0 1035.0,775.0 1002.5,781.2 990.0,777.5 962.5,787.5 942.5,750.0" fill="#0a7d0a" /><g transform="rotate(35 985.8 751.7)"><polygon points="924.1,730.3 955.7,718.8 984.4,729.3 1011.6,737.7 1039.5,742.6 1016.5,766.3 1004.1,770.4 987.3,794.4 949.4,775.2" fill="#ffffff" filter="url(#f63)"/></g><polygon points="1070.0,703.8 1087.5,693.0 1113.8,695.8 1125.0,727.5 1135.0,755.0 1142.5,785.0 1137.5,800.0 1117.5,792.5 1117.5,775.0 1115.0,757.5 1105.0,745.0 1090.0,732.5 1080.0,720.0" fill="#0a7d0a" /><g transform="rotate(50 1110.5 744.8)"><polygon points="1053.0,749.4 1056.0,729.1 1075.0,710.8 1106.6,722.6 1134.0,732.6 1161.9,746.1 1170.1,759.6 1151.5,770.1 1138.1,758.8 1123.1,749.5 1107.1,749.1 1087.9,752.6 1071.9,752.2" fill="#ffffff" filter="url(#f64)"/></g><g transform="rotate(30 1177.8 793.2)"><polygon points="1130.9,787.7 1153.3,786.3 1175.6,785.0 1195.4,779.3 1210.9,776.1 1218.4,789.1 1203.6,803.5 1183.7,809.1 1161.4,810.5 1144.3,805.9" fill="#0a7d0a" filter="url(#f65)"/></g><g transform="rotate(45 1136.4 728.8)"><polygon points="1098.3,720.9 1125.7,713.0 1150.4,709.4 1154.0,734.2 1164.6,751.9 1139.8,741.3 1122.2,730.6" fill="#0a7d0a" filter="url(#f66)"/></g><g transform="rotate(60 1243.6 841.2)"><polygon points="1223.8,845.5 1240.4,826.8 1260.9,843.9 1249.4,848.8" fill="#0a7d0a" filter="url(#f67)"/></g><g transform="rotate(30 1047.2 810.5)"><polygon points="982.4,812.7 1023.2,783.4 1102.5,760.7 1124.8,759.4 1110.7,784.9 1062.4,801.2 1048.2,826.7 1030.7,871.4 1001.3,865.3 986.3,839.4" fill="#0a7d0a" filter="url(#f68)"/></g><g transform="rotate(-30 1038.9 969.0)"><polygon points="982.0,954.6 996.6,954.4 1017.7,957.9 1041.2,957.1 1060.5,953.8 1072.9,952.3 1074.7,959.1 1061.1,962.7 1060.4,973.9 1067.5,986.7 1064.6,996.6 1059.1,986.1 1032.5,982.3 1006.6,984.7 986.4,972.1" fill="#0a7d0a" filter="url(#f69)"/></g><g transform="rotate(-30 1038.9 969.0)"><polygon points="982.0,954.6 996.6,954.4 1017.7,957.9 1041.2,957.1 1060.5,953.8 1072.9,952.3 1074.7,959.1 1061.1,962.7 1060.4,973.9 1067.5,986.7 1064.6,996.6 1059.1,986.1 1032.5,982.3 1006.6,984.7 986.4,972.1" fill="#ffffff" filter="url(#f70)"/></g><g transform="rotate(60 1172.9 974.8)"><polygon points="1151.5,977.3 1159.4,938.6 1181.1,951.1 1189.5,979.1 1188.0,1004.2 1168.1,998.5" fill="#22c43a" filter="url(#f71)"/></g><polygon points="980.0,707.5 1035.0,702.5 1070.0,703.8 1080.0,720.0 1090.0,732.5 1105.0,745.0 1115.0,757.5 1117.5,775.0 1110.0,787.5 1095.0,785.0 1075.0,780.0 1055.0,775.0 1037.5,775.0 1025.0,765.0 1015.0,755.0 1007.5,745.0 997.5,732.5 987.5,722.5 975.0,717.5" fill="#ffffff" /><g transform="rotate(40 1051.2 746.5)"><polygon points="971.6,762.4 1010.5,723.2 1038.1,701.7 1056.2,707.7 1071.9,710.8 1091.4,710.8 1107.1,713.9 1120.3,725.7 1122.6,740.1 1109.5,747.8 1091.0,756.9 1072.4,765.9 1059.0,777.1 1043.0,777.5 1028.9,776.3 1016.7,773.4 1001.1,770.3 987.0,769.1 974.2,773.3" fill="#0a7d0a" filter="url(#f72)"/></g><polygon points="874.2,713.0 906.8,703.5 914.8,712.0 903.0,718.0 898.0,720.0 874.2,718.8" fill="#ffffff" /><polygon points="930.5,865.0 945.5,863.8 945.5,875.0 933.0,876.2" fill="#ffffff" /><polygon points="958.0,897.5 975.5,892.5 975.5,900.0 960.5,906.2" fill="#ffffff" /><polygon points="965.5,815.0 975.5,810.0 975.5,825.0 968.0,827.5" fill="#ffffff" /><polygon points="965.0,892.5 975.0,895.0 980.0,902.5 965.0,907.5" fill="#ffffff" /><g transform="rotate(30 880.5 842.5)"><polygon points="716.5,853.5 950.3,718.5 1022.8,844.0 832.3,954.0" fill="#ffffff" filter="url(#f73)"/></g></g>
<use href="#bd" fill="none" stroke="#555" stroke-width="1.3" stroke-linejoin="round"/>
<use href="#ol" fill="none" stroke="#4d4d4d" stroke-width="1.6" stroke-linejoin="round"/>
<text class="rl" x="875.25" y="731.25">HIID2</text>
<text class="rl" x="858.4" y="763.75">HID1</text>
<text class="rl" x="1066.25" y="745">HIID1</text>
<text class="rl" x="1174.4" y="778.75">HIIC1</text>
<text class="rl" x="760.9" y="829.5">HIID3</text>
<text class="rl" x="882" y="852.5">HIC2</text>
<text class="rl" x="1052.9" y="808.75">HIC1</text>
<text class="rl" x="1180.9" y="857.5">HIB1</text>
<text class="rl" x="1108.25" y="927.5">HIIA/B1</text>
<text class="rl" x="935.5" y="946.25">HIIC2</text>
<text class="rl" x="1056" y="966.25">HIIIA1</text>
</g>
<g transform="matrix(0.347 0 0 0.347 484.60 -184.28)">
<g clip-path="url(#cp)"><rect x="680" y="640" width="600" height="380" fill="#ffffff"/><polygon points="683.0,645.0 1308.0,645.0 1308.0,1045.0 683.0,1045.0" fill="#ffc4c4" filter="url(#f74)"/><polygon points="758.0,820.0 858.0,785.0 983.0,785.0 1083.0,720.0 1283.0,745.0 1283.0,1045.0 833.0,1045.0" fill="#ff9a9a" filter="url(#f75)"/><polygon points="908.0,870.0 933.0,862.5 958.0,865.0 983.0,870.0 1005.5,865.0 1005.5,935.0 983.0,920.0 958.0,915.0 933.0,905.0 913.0,895.0" fill="#ff5050" filter="url(#f76)"/><polygon points="1050.0,815.0 1070.0,810.0 1090.0,820.0 1105.0,830.0 1125.0,840.0 1145.0,835.0 1155.0,845.0 1165.0,860.0 1155.0,870.0 1140.0,865.0 1125.0,860.0 1115.0,865.0 1100.0,875.0 1085.0,885.0 1070.0,885.0 1050.0,880.0 1035.0,885.0 1015.0,905.0 990.0,915.0 975.0,915.0 980.0,885.0 985.0,870.0 1005.0,857.5 1027.5,845.0 1045.0,837.5 1052.5,825.0" fill="#ff5050" filter="url(#f76)"/><polygon points="1145.0,820.0 1160.0,825.0 1190.0,820.0 1222.5,840.0 1215.0,870.0 1180.0,870.0 1165.0,865.0 1155.0,850.0 1147.5,835.0" fill="#ff5050" filter="url(#f76)"/><polygon points="705.5,657.5 758.0,702.5 823.0,733.0 875.5,723.0 1003.0,700.0 1005.5,785.0 958.0,790.0 908.0,800.0 858.0,807.5 823.0,820.0 808.0,825.0 783.0,800.0 768.0,775.0 746.8,752.5 758.0,727.5 713.0,675.0" fill="#4aa84a" filter="url(#f77)"/><polygon points="763.0,750.0 858.0,770.0 933.0,757.5 958.0,785.0 858.0,805.0 823.0,817.5 788.0,800.0" fill="#0a730a" filter="url(#f78)"/><polygon points="962.5,698.8 980.0,707.5 1035.0,775.0 1002.5,781.2 962.5,787.5" fill="#0a730a" filter="url(#f79)"/><polygon points="1070.0,703.8 1087.5,693.0 1113.8,695.8 1125.0,727.5 1135.0,755.0 1142.5,785.0 1137.5,800.0 1117.5,792.5 1115.0,757.5 1090.0,732.5" fill="#0a730a" filter="url(#f80)"/><polygon points="1140.0,765.0 1215.0,795.0 1215.0,810.0 1175.0,810.0 1142.5,787.5" fill="#3a9a3a" filter="url(#f81)"/><polygon points="980.0,707.5 1035.0,702.5 1070.0,703.8 1080.0,720.0 1090.0,732.5 1105.0,745.0 1115.0,757.5 1117.5,775.0 1110.0,787.5 1095.0,785.0 1075.0,780.0 1055.0,775.0 1037.5,775.0 1025.0,765.0 1015.0,755.0 1007.5,745.0 997.5,732.5 987.5,722.5 975.0,717.5" fill="#ffffff" /></g>
<use href="#bd" fill="none" stroke="#444" stroke-width="2.6" stroke-linejoin="round"/>
<use href="#ol" fill="none" stroke="#444" stroke-width="3.2" stroke-linejoin="round"/>
<text x="875.25" y="731.25" style="font-size:28.5px;font-weight:bold;text-anchor:middle">HIID2</text>
<text x="858.4" y="763.75" style="font-size:28.5px;font-weight:bold;text-anchor:middle">HID1</text>
<text x="1066.25" y="745" style="font-size:28.5px;font-weight:bold;text-anchor:middle">HIID1</text>
<text x="1174.4" y="778.75" style="font-size:28.5px;font-weight:bold;text-anchor:middle">HIIC1</text>
<text x="760.9" y="829.5" style="font-size:28.5px;font-weight:bold;text-anchor:middle">HIID3</text>
<text x="882" y="852.5" style="font-size:28.5px;font-weight:bold;text-anchor:middle">HIC2</text>
<text x="1052.9" y="808.75" style="font-size:28.5px;font-weight:bold;text-anchor:middle">HIC1</text>
<text x="1180.9" y="857.5" style="font-size:28.5px;font-weight:bold;text-anchor:middle">HIB1</text>
<text x="1108.25" y="927.5" style="font-size:28.5px;font-weight:bold;text-anchor:middle">HIIA/B1</text>
<text x="935.5" y="946.25" style="font-size:28.5px;font-weight:bold;text-anchor:middle">HIIC2</text>
<text x="1056" y="966.25" style="font-size:28.5px;font-weight:bold;text-anchor:middle">HIIIA1</text>
</g>
<rect x="682.0" y="28.0" width="579.50" height="489.30" fill="none" stroke="#000" stroke-width="1.6"/>
<line x1="829.5" y1="28.0" x2="829.5" y2="22.5" stroke="#000" stroke-width="1.2"/>
<text class="tk" text-anchor="middle" x="829.5" y="19.5">80°E</text>
<line x1="1003.25" y1="28.0" x2="1003.25" y2="22.5" stroke="#000" stroke-width="1.2"/>
<text class="tk" text-anchor="middle" x="1003.25" y="19.5">90°E</text>
<line x1="1172.5" y1="28.0" x2="1172.5" y2="22.5" stroke="#000" stroke-width="1.2"/>
<text class="tk" text-anchor="middle" x="1172.5" y="19.5">100°E</text>
<line x1="703" y1="517.3" x2="703" y2="522.8" stroke="#000" stroke-width="1.2"/>
<text class="tk" text-anchor="middle" x="703" y="534.8">80°E</text>
<line x1="928" y1="517.3" x2="928" y2="522.8" stroke="#000" stroke-width="1.2"/>
<text class="tk" text-anchor="middle" x="928" y="534.8">90°E</text>
<line x1="1148.25" y1="517.3" x2="1148.25" y2="522.8" stroke="#000" stroke-width="1.2"/>
<text class="tk" text-anchor="middle" x="1148.25" y="534.8">100°E</text>
<line x1="682.0" y1="65.75" x2="676.5" y2="65.75" stroke="#000" stroke-width="1.2"/>
<text class="tk" text-anchor="middle" transform="translate(673.5 65.75) rotate(-90)">40°N</text>
<line x1="682.0" y1="193" x2="676.5" y2="193" stroke="#000" stroke-width="1.2"/>
<text class="tk" text-anchor="middle" transform="translate(673.5 193) rotate(-90)">35°N</text>
<line x1="682.0" y1="320" x2="676.5" y2="320" stroke="#000" stroke-width="1.2"/>
<text class="tk" text-anchor="middle" transform="translate(673.5 320) rotate(-90)">30°N</text>
<line x1="682.0" y1="444" x2="676.5" y2="444" stroke="#000" stroke-width="1.2"/>
<text class="tk" text-anchor="middle" transform="translate(673.5 444) rotate(-90)">25°N</text>
<line x1="1261.5" y1="39.5" x2="1267.0" y2="39.5" stroke="#000" stroke-width="1.2"/>
<text class="tk" text-anchor="middle" transform="translate(1278.8 39.5) rotate(-90)">45°N</text>
<line x1="1261.5" y1="160" x2="1267.0" y2="160" stroke="#000" stroke-width="1.2"/>
<text class="tk" text-anchor="middle" transform="translate(1278.8 160) rotate(-90)">40°N</text>
<line x1="1261.5" y1="281.25" x2="1267.0" y2="281.25" stroke="#000" stroke-width="1.2"/>
<text class="tk" text-anchor="middle" transform="translate(1278.8 281.25) rotate(-90)">35°N</text>
<line x1="1261.5" y1="402.5" x2="1267.0" y2="402.5" stroke="#000" stroke-width="1.2"/>
<text class="tk" text-anchor="middle" transform="translate(1278.8 402.5) rotate(-90)">30°N</text>
<g transform="translate(-658.2 0.6)">
<g clip-path="url(#cp)"><rect x="680" y="640" width="600" height="380" fill="#ffaa00"/><polygon points="745.5,733.8 803.0,735.0 795.5,741.2 778.0,742.5 765.5,750.0 760.5,762.5 758.0,775.0 753.0,785.0 745.5,780.0 744.2,745.0" fill="#00f0c8" /><polygon points="843.0,725.0 1003.0,697.5 1003.0,780.0 1000.0,790.0 992.5,795.0 987.5,801.2 986.2,810.0 981.2,817.5 978.8,827.5 981.2,837.5 990.0,842.5 997.5,847.5 1003.0,853.8 1005.0,858.0 995.5,862.5 990.5,860.0 978.0,865.0 968.0,862.5 958.0,865.0 948.0,870.0 935.5,877.5 923.0,872.5 923.0,857.5 915.5,842.5 908.0,827.5 900.5,815.0 890.5,800.0 883.0,792.5 868.0,785.0 853.0,777.5 843.0,767.5 838.0,755.0 843.0,745.0" fill="#00f0c8" /><polygon points="788.0,745.0 813.0,745.0 823.0,752.5 813.0,760.0 793.0,757.5" fill="#00f0c8" /><polygon points="965.0,701.2 990.0,700.5 995.0,710.0 990.0,720.0 1000.0,732.5 1012.5,745.0 1022.5,755.0 1030.0,765.0 1037.5,772.5 1027.5,776.2 1015.0,777.5 1002.5,780.0 1000.0,790.0 992.5,795.0 987.5,801.2 986.2,810.0 981.2,817.5 978.8,827.5 981.2,837.5 990.0,842.5 997.5,847.5 1002.5,853.8 1005.0,858.0 995.0,862.5 965.0,860.0" fill="#00f0c8" /><polygon points="783.0,837.5 793.0,840.0 800.5,850.0 803.0,860.0 813.0,865.0 825.5,862.5 830.5,870.0 825.5,877.5 833.0,885.0 823.0,890.0 810.5,885.0 803.0,892.5 795.5,880.0 793.0,870.0 783.0,862.5 781.8,850.0" fill="#00f0c8" /><polygon points="878.0,917.5 890.5,920.0 888.0,927.5 878.0,925.0" fill="#00f0c8" /><polygon points="890.5,942.5 898.0,947.5 908.0,957.5 898.0,962.5 893.0,952.5" fill="#00f0c8" /><polygon points="980.5,970.0 990.5,977.5 995.5,985.0 983.0,985.0" fill="#00f0c8" /><polygon points="758.0,830.0 773.0,828.8 783.0,830.0 788.0,840.0 783.0,845.0 765.5,842.5 758.0,837.5" fill="#00f0c8" /><polygon points="1047.5,705.0 1070.0,702.5 1077.5,698.8 1085.0,710.0 1100.0,717.5 1110.0,725.0 1120.0,737.5 1130.0,750.0 1135.0,762.5 1125.0,770.0 1115.0,760.0 1105.0,750.0 1095.0,740.0 1085.0,730.0 1072.5,720.0 1060.0,712.5" fill="#00f0c8" /><polygon points="1125.0,720.0 1130.0,710.0 1140.0,707.5 1142.5,717.5 1137.5,730.0 1135.0,740.0 1145.0,737.5 1155.0,732.5 1160.0,740.0 1150.0,750.0 1140.0,757.5 1132.5,750.0 1128.8,737.5" fill="#00f0c8" /><polygon points="1155.0,785.0 1170.0,782.5 1185.0,785.0 1195.0,792.5 1205.0,797.5 1210.0,807.5 1205.0,815.0 1195.0,812.5 1185.0,805.0 1175.0,800.0 1162.5,795.0" fill="#00f0c8" /><polygon points="1112.5,792.5 1117.5,782.5 1127.5,777.5 1140.0,782.5 1150.0,792.5 1150.0,805.0 1140.0,807.5 1130.0,810.0 1120.0,805.0" fill="#00f0c8" /><polygon points="1050.0,787.5 1070.0,785.0 1080.0,795.0 1070.0,800.0 1052.5,797.5" fill="#00f0c8" /><polygon points="1095.0,860.0 1102.5,857.5 1105.0,865.0 1097.5,867.5" fill="#00f0c8" /><polygon points="1242.5,832.5 1252.5,830.0 1250.0,840.0 1243.8,842.5" fill="#00f0c8" /><polygon points="1182.5,905.0 1190.0,900.0 1205.0,900.0 1217.5,902.5 1225.0,907.5 1215.0,920.0 1205.0,927.5 1190.0,930.0 1182.5,922.5" fill="#00f0c8" /><polygon points="1030.0,907.5 1040.0,900.0 1060.0,898.8 1072.5,905.0 1075.0,917.5 1065.0,920.0 1052.5,915.0 1040.0,917.5 1031.2,915.0" fill="#00f0c8" /><polygon points="1075.0,960.0 1090.0,957.5 1097.5,965.0 1095.0,975.0 1085.0,977.5 1075.0,970.0" fill="#00f0c8" /><polygon points="1140.0,970.0 1147.5,967.5 1155.0,977.5 1155.0,992.5 1150.0,998.8 1145.0,987.5 1140.0,980.0" fill="#00f0c8" /><polygon points="1170.0,975.0 1177.5,972.5 1180.0,980.0 1172.5,982.5" fill="#00f0c8" /><polygon points="965.0,812.5 980.0,817.5 992.5,822.5 1002.5,832.5 1000.0,847.5 990.0,857.5 980.0,852.5 965.0,855.0" fill="#00f0c8" /><polygon points="980.0,970.0 992.5,962.5 1007.5,948.8 1025.0,943.8 1032.5,952.5 1025.0,960.0 1012.5,965.0 1000.0,975.0 987.5,985.0 982.5,980.0" fill="#00f0c8" /><polygon points="683.0,670.0 708.0,645.0 758.0,690.0 798.0,720.0 805.5,727.5 803.0,736.2 793.0,735.0 778.0,731.2 765.5,735.0 755.5,737.5 753.0,745.0 755.5,755.0 758.0,765.0 753.0,770.0 743.0,765.0 743.0,745.0 745.5,735.0 708.0,720.0" fill="#bed2ff" /><polygon points="843.0,725.0 848.0,722.5 858.0,720.0 873.0,716.2 908.0,703.8 943.0,702.5 958.0,698.8 968.0,701.2 983.0,702.0 998.0,701.2 1003.0,702.5 1003.0,762.5 993.0,770.0 983.0,767.5 970.5,775.0 958.0,785.0 945.5,792.5 933.0,797.5 923.0,802.5 918.0,795.0 920.5,785.0 908.0,777.5 903.0,767.5 908.0,757.5 910.5,745.0 913.0,735.0 908.0,730.0 898.0,730.0 883.0,735.0 868.0,740.0 853.0,742.5 845.5,737.5" fill="#bed2ff" /><polygon points="965.0,701.2 975.0,701.2 982.5,710.0 985.0,720.0 992.5,732.5 1002.5,745.0 1010.0,752.5 1015.0,762.5 1007.5,770.0 995.0,770.0 985.0,762.5 975.0,757.5 965.0,760.0" fill="#bed2ff" /><polygon points="736.8,808.8 743.0,807.5 745.5,820.0 740.5,830.0 748.0,840.0 765.5,837.5 780.5,842.5 781.8,855.0 790.5,867.5 791.8,875.0 778.0,877.5 773.0,881.2 758.0,862.5 745.5,847.5 734.2,842.5 734.2,820.0" fill="#bed2ff" /><polygon points="783.0,850.0 793.0,852.5 795.5,865.0 790.5,870.0 783.0,862.5" fill="#bed2ff" /><polygon points="1077.5,702.5 1087.5,694.5 1107.5,693.0 1113.8,697.0 1125.0,702.5 1130.0,710.0 1125.0,720.0 1120.0,727.5 1112.5,720.0 1100.0,712.5 1087.5,710.0 1080.0,707.5" fill="#bed2ff" /><polygon points="1122.5,787.5 1132.5,785.0 1137.5,795.0 1135.0,805.0 1125.0,802.5" fill="#bed2ff" /><polygon points="1187.5,910.0 1197.5,905.0 1210.0,907.5 1215.0,915.0 1205.0,922.5 1192.5,923.8 1187.5,917.5" fill="#bed2ff" /><polygon points="1082.5,927.5 1090.0,920.0 1100.0,925.0 1105.0,937.5 1102.5,950.0 1095.0,957.5 1087.5,950.0 1083.8,940.0" fill="#bed2ff" /><polygon points="982.5,981.2 997.5,965.0 1012.5,957.5 1025.0,953.0 1033.8,957.5 1025.0,962.5 1012.5,967.5 1000.0,975.0 990.0,995.0 985.0,995.0" fill="#bed2ff" /><polygon points="1185.0,907.5 1195.0,902.5 1210.0,902.5 1215.0,910.0 1212.5,915.0 1185.0,915.0" fill="#bed2ff" /><polygon points="693.0,677.5 708.0,652.5 733.0,675.0 763.0,702.5 783.0,717.5 795.5,725.0 793.0,730.0 778.0,727.5 758.0,731.2 748.0,737.5 733.0,730.0 713.0,717.5" fill="#0070ff" /><polygon points="913.0,752.5 923.0,740.0 933.0,732.5 943.0,730.0 955.5,720.0 968.0,717.5 978.0,720.0 983.0,730.0 983.0,745.0 978.0,755.0 965.5,762.5 955.5,770.0 943.0,775.0 928.0,772.5 918.0,767.5" fill="#0070ff" /><polygon points="930.5,715.0 940.5,711.2 945.5,717.5 935.5,722.5 929.2,720.0" fill="#0070ff" /><polygon points="848.0,735.0 858.0,732.5 860.5,740.0 850.5,742.5" fill="#0070ff" /><polygon points="738.0,837.5 748.0,845.0 765.5,845.0 775.5,852.5 778.0,862.5 783.0,870.0 773.0,880.0 763.0,865.0 750.5,852.5 739.2,847.5" fill="#0070ff" /><polygon points="736.0,810.0 743.0,808.8 741.8,817.5 736.0,820.0" fill="#0070ff" /><polygon points="1087.5,930.0 1097.5,930.0 1098.8,942.5 1092.5,945.0 1087.5,940.0" fill="#0070ff" /><polygon points="1196.2,910.0 1205.0,908.8 1206.2,917.5 1197.5,918.8" fill="#0070ff" /><polygon points="990.0,981.2 1000.0,970.0 1012.5,962.5 1025.0,957.5 1040.0,961.2 1065.0,962.5 1075.0,967.5 1070.0,973.8 1056.2,976.2 1040.0,983.8 1025.0,993.8 1018.8,998.8 1006.2,1000.0 995.0,998.0" fill="#0070ff" /><polygon points="1195.0,907.5 1205.0,907.5 1205.0,915.0 1195.0,915.0" fill="#0070ff" /><polygon points="693.0,677.5 708.0,652.5 725.5,670.0 748.0,692.5 765.5,707.5 778.0,717.5 773.0,722.5 758.0,725.0 753.0,732.5 743.0,732.5 728.0,722.5 715.5,715.0 715.5,695.0 698.0,685.0" fill="#004da8" /><polygon points="918.0,755.0 928.0,745.0 940.5,740.0 953.0,741.2 958.0,732.5 965.5,725.0 975.5,727.5 979.2,737.5 975.5,747.5 965.5,755.0 955.5,762.5 940.5,767.5 928.0,765.0 920.5,762.5" fill="#004da8" /><polygon points="991.2,986.2 1000.0,975.0 1012.5,967.5 1025.0,962.5 1040.0,965.0 1065.0,966.2 1072.5,968.0 1070.0,973.8 1056.2,976.2 1040.0,983.8 1025.0,993.8 1018.8,998.8 1006.2,1000.0 995.0,998.0" fill="#004da8" /><ellipse cx="940.5" cy="835.0" rx="15.5" ry="13.8" fill="#ffaa00"/><ellipse cx="885.5" cy="755.0" rx="17.5" ry="10.5" fill="#ffaa00"/><polygon points="982.5,705.0 1035.0,700.5 1037.5,707.5 1015.0,710.5 1000.0,715.5 990.0,720.0" fill="#ffaa00" /><polygon points="808.0,732.5 833.0,728.8 838.0,740.0 833.0,750.0 838.0,762.5 848.0,775.0 863.0,790.0 880.5,800.0 893.0,815.0 898.0,830.0 898.0,845.0 903.0,860.0 903.0,875.0 903.0,890.0 908.0,895.0 918.0,892.5 933.0,892.5 948.0,890.0 958.0,880.0 968.0,880.0 983.0,885.0 983.0,900.0 980.5,905.0 968.0,910.0 958.0,917.5 948.0,920.0 930.5,920.0 918.0,917.5 908.0,905.0 905.5,895.0 895.5,900.0 883.0,900.0 873.0,905.0 858.0,902.5 848.0,895.0 843.0,885.0 838.0,870.0 833.0,857.5 828.0,850.0 818.0,855.0 808.0,855.0 803.0,845.0 793.0,835.0 783.0,827.5 770.5,825.0 760.5,815.0 758.0,800.0 760.5,785.0 768.0,772.5 765.5,757.5 773.0,750.0 783.0,752.5 793.0,762.5 803.0,762.5 813.0,755.0 808.0,745.0" fill="#ff5500" /><polygon points="818.0,895.0 833.0,892.5 843.0,905.0 858.0,912.5 873.0,920.0 883.0,930.0 885.5,942.5 878.0,950.0 868.0,950.0 858.0,942.5 845.5,937.5 833.0,925.0 830.5,915.0 823.0,905.0" fill="#ff5500" /><polygon points="905.5,935.0 918.0,927.5 933.0,920.0 958.0,920.0 978.0,925.0 990.5,935.0 993.0,952.5 990.5,965.0 980.5,970.0 970.5,965.0 958.0,962.5 943.0,960.0 930.5,962.5 920.5,960.0 913.0,950.0" fill="#ff5500" /><polygon points="1165.0,750.0 1175.0,743.8 1187.5,741.2 1200.0,742.5 1205.0,750.0 1200.0,757.5 1187.5,762.5 1172.5,762.5 1165.0,757.5" fill="#ff5500" /><polygon points="1052.5,817.5 1065.0,815.0 1080.0,812.5 1095.0,815.0 1110.0,817.5 1125.0,820.0 1140.0,820.0 1150.0,815.0 1165.0,815.0 1180.0,820.0 1190.0,825.0 1202.5,827.5 1215.0,825.0 1225.0,820.0 1232.5,825.0 1235.0,835.0 1232.5,850.0 1225.0,860.0 1220.0,870.0 1215.0,880.0 1205.0,885.0 1195.0,880.0 1185.0,870.0 1177.5,862.5 1165.0,855.0 1150.0,850.0 1140.0,845.0 1130.0,850.0 1120.0,845.0 1110.0,840.0 1100.0,835.0 1090.0,830.0 1080.0,825.0 1065.0,825.0 1055.0,822.5" fill="#ff5500" /><polygon points="1190.0,837.5 1202.5,833.8 1211.2,840.0 1205.0,852.5 1193.8,848.8" fill="#ffaa00" /><polygon points="1030.0,835.0 1040.0,830.0 1045.0,837.5 1035.0,842.5" fill="#ff5500" /><polygon points="1062.5,865.0 1072.5,860.0 1082.5,870.0 1090.0,880.0 1100.0,885.0 1110.0,880.0 1120.0,885.0 1135.0,890.0 1150.0,892.5 1162.5,890.0 1165.0,880.0 1172.5,872.5 1182.5,870.0 1185.0,880.0 1180.0,895.0 1177.5,905.0 1180.0,920.0 1177.5,930.0 1185.0,935.0 1192.5,945.0 1197.5,957.5 1197.5,970.0 1190.0,980.0 1180.0,975.0 1170.0,965.0 1165.0,952.5 1155.0,950.0 1145.0,942.5 1137.5,950.0 1135.0,962.5 1125.0,970.0 1115.0,965.0 1105.0,960.0 1100.0,950.0 1090.0,935.0 1082.5,920.0 1077.5,905.0 1072.5,892.5 1065.0,880.0" fill="#ff5500" /><polygon points="965.0,877.5 980.0,875.0 997.5,880.0 1015.0,887.5 1017.5,900.0 1012.5,915.0 1002.5,925.0 1000.0,940.0 995.0,952.5 987.5,962.5 975.0,965.0 965.0,965.0" fill="#ff5500" /><polygon points="975.0,932.5 985.0,931.2 986.2,942.5 976.2,942.5" fill="#ffaa00" /><polygon points="1102.5,965.0 1115.0,965.0 1125.0,975.0 1130.0,985.0 1125.0,991.2 1115.0,992.5 1111.2,983.8 1106.2,976.2" fill="#ff5500" /><polygon points="1182.5,905.0 1190.0,900.0 1205.0,900.0 1217.5,902.5 1225.0,907.5 1215.0,920.0 1205.0,927.5 1190.0,930.0 1182.5,922.5" fill="#00f0c8" /><polygon points="1187.5,910.0 1197.5,905.0 1210.0,907.5 1215.0,915.0 1205.0,922.5 1192.5,923.8 1187.5,917.5" fill="#bed2ff" /><polygon points="1196.2,910.0 1205.0,908.8 1206.2,917.5 1197.5,918.8" fill="#0070ff" /><polygon points="788.0,745.0 813.0,745.0 823.0,752.5 813.0,760.0 793.0,757.5" fill="#00f0c8" /><polygon points="778.0,775.0 793.0,772.5 813.0,780.0 830.5,790.0 843.0,805.0 858.0,815.0 868.0,825.0 863.0,840.0 858.0,852.5 858.0,862.5 848.0,862.5 843.0,847.5 833.0,840.0 818.0,832.5 803.0,820.0 788.0,807.5 783.0,795.0 765.5,800.0 763.0,790.0 770.5,780.0" fill="#ff0000" /><polygon points="825.5,900.0 835.5,900.0 835.5,910.0 828.0,910.0" fill="#ff0000" /><polygon points="863.0,932.5 875.5,932.5 878.0,942.5 868.0,945.0" fill="#ff0000" /><polygon points="925.5,937.5 935.5,925.0 945.5,925.0 943.0,945.0 933.0,950.0" fill="#ff0000" /><polygon points="968.0,950.0 983.0,952.5 983.0,962.5 970.5,960.0" fill="#ff0000" /><polygon points="975.5,930.0 985.5,930.0 985.5,942.5 975.5,942.5" fill="#ffaa00" /><polygon points="980.0,895.0 992.5,895.0 1002.5,905.0 1002.5,915.0 992.5,922.5 982.5,917.5 977.5,907.5" fill="#ff0000" /><polygon points="965.0,950.0 975.0,950.0 980.0,960.0 972.5,965.0 965.0,962.5" fill="#ff0000" /><polygon points="1137.5,910.0 1150.0,902.5 1165.0,900.0 1172.5,905.0 1175.0,920.0 1170.0,930.0 1157.5,932.5 1145.0,930.0 1137.5,920.0" fill="#ff0000" /><polygon points="1180.0,942.5 1186.2,940.0 1188.8,950.0 1182.5,953.8" fill="#ff0000" /><polygon points="1082.5,892.5 1095.0,890.0 1100.0,900.0 1090.0,907.5 1083.8,902.5" fill="#ff0000" /><polygon points="1223.8,827.5 1227.5,825.0 1228.8,837.5 1225.0,840.0" fill="#ff0000" /><polygon points="829.2,823.8 835.5,821.2 843.0,825.0 841.8,832.5 833.0,835.0 828.0,830.0" fill="#800000" /><polygon points="1155.0,911.2 1162.5,907.5 1168.8,911.2 1168.8,922.5 1161.2,926.2 1155.0,920.0" fill="#800000" /><polygon points="874.2,714.0 906.8,704.5 914.8,712.5 903.0,718.0 898.0,720.0 874.2,718.8" fill="#ffffff" /><polygon points="1000.0,715.0 1015.0,710.0 1035.0,705.0 1050.0,707.5 1060.0,712.5 1065.0,722.5 1062.5,730.0 1052.5,737.5 1047.5,745.0 1037.5,747.5 1027.5,745.0 1020.0,750.0 1015.0,742.5 1007.5,730.0 1000.0,722.5" fill="#ffffff" /><polygon points="1047.5,747.5 1060.0,745.0 1070.0,752.5 1082.5,760.0 1095.0,767.5 1105.0,775.0 1095.0,775.0 1082.5,770.0 1070.0,765.0 1057.5,760.0 1050.0,755.0" fill="#ffffff" /><polygon points="1015.0,750.0 1027.5,755.0 1040.0,765.0 1050.0,772.5 1040.0,772.5 1027.5,765.0 1017.5,757.5" fill="#ffffff" /><polygon points="788.0,751.2 810.5,748.8 811.8,755.0 793.0,757.0" fill="#ffffff" /><polygon points="921.8,752.5 930.5,750.0 929.2,756.2 923.0,757.5" fill="#ffffff" /><polygon points="963.0,732.5 973.0,731.2 974.2,737.5 964.2,738.8" fill="#ffffff" /><g transform="rotate(40 1071.2 924.6)"><polygon points="993.1,938.5 1012.2,902.9 1049.9,877.8 1071.7,872.6 1107.5,868.6 1135.1,897.6 1141.6,924.8 1126.3,937.7 1083.4,941.0 1063.6,964.1 1047.1,991.1 1023.4,978.4" fill="#ffffff" filter="url(#f82)"/></g><g transform="rotate(30 771.5 763.0)"><polygon points="663.8,723.5 697.9,712.5 785.4,714.0 834.9,699.8 857.4,738.8 831.6,794.1 808.3,853.8 774.2,844.6 762.1,793.8 699.3,755.0" fill="#ffffff" filter="url(#f83)"/></g><g transform="rotate(35 1105.0 808.0)"><polygon points="925.5,795.7 1068.9,695.4 1222.5,740.4 1256.5,832.6 1051.7,975.9" fill="#ffffff" filter="url(#f84)"/></g><g transform="rotate(30 901.0 814.0)"><polygon points="795.1,766.6 932.3,664.3 1039.8,850.5 914.3,923.0 823.5,865.7" fill="#ffffff" filter="url(#f85)"/></g></g>
<use href="#bd" fill="none" stroke="#555" stroke-width="1.3" stroke-linejoin="round"/>
<use href="#ol" fill="none" stroke="#4d4d4d" stroke-width="1.6" stroke-linejoin="round"/>
<text class="rl" x="875.25" y="731.25">HIID2</text>
<text class="rl" x="858.4" y="763.75">HID1</text>
<text class="rl" x="1066.25" y="745">HIID1</text>
<text class="rl" x="1174.4" y="778.75">HIIC1</text>
<text class="rl" x="760.9" y="829.5">HIID3</text>
<text class="rl" x="882" y="852.5">HIC2</text>
<text class="rl" x="1052.9" y="808.75">HIC1</text>
<text class="rl" x="1180.9" y="857.5">HIB1</text>
<text class="rl" x="1108.25" y="927.5">HIIA/B1</text>
<text class="rl" x="935.5" y="946.25">HIIC2</text>
<text class="rl" x="1056" y="966.25">HIIIA1</text>
</g>
<g clip-path="url(#cpic)"><polygon points="89.4,623.9 94.3,621.5 102.5,625.6 109.0,623.9 115.6,627.2 122.1,631.3 127.0,635.4 128.6,641.9 136.8,646.8 141.7,655.0 148.2,659.1 154.8,655.0 161.3,653.3 166.2,656.6 164.6,663.2 158.1,668.1 151.5,669.7 145.0,668.1 138.4,663.2 131.9,658.2 125.4,655.0 120.5,648.4 115.6,641.9 109.0,638.6 102.5,635.4 96.0,632.1 91.1,628.8" fill="#0a730a" /><polygon points="151.5,669.7 158.1,668.1 164.6,663.2 167.9,656.6 177.7,653.3 189.1,653.3 197.3,658.2 190.7,659.1 184.2,661.5 180.9,668.1 177.7,674.6 174.4,681.1 172.8,686.0 166.2,687.7 158.1,684.4 151.5,682.8 145.0,684.4 141.7,679.5 148.2,676.2" fill="#0a730a" /><polygon points="124.6,672.1 131.9,670.5 138.4,674.6 136.8,679.5 128.6,678.7 124.6,676.2" fill="#0a730a" /><polygon points="179.3,635.4 184.2,632.9 190.7,635.4 197.3,634.6 203.8,632.9 212.0,633.7 220.2,632.1 223.4,635.4 221.8,641.9 215.3,643.5 207.1,641.9 198.9,643.5 190.7,646.8 184.2,646.8 180.1,643.5" fill="#0a730a" /><polygon points="223.4,633.7 231.6,630.5 239.8,632.1 244.7,638.6 249.6,635.4 254.5,637.0 256.1,643.5 251.2,650.1 246.3,655.0 239.8,658.2 231.6,658.2 225.1,656.6 220.2,651.7 221.8,641.9" fill="#0a730a" /><polygon points="192.4,646.8 198.9,648.4 203.8,655.0 212.0,655.0 220.2,658.2 230.0,659.1 236.5,661.5 238.1,671.3 241.4,676.2 239.8,684.4 234.9,687.7 228.3,682.8 221.8,684.4 216.9,681.1 213.6,674.6 207.1,668.1 202.2,661.5 197.3,658.2 192.4,653.3" fill="#0a730a" /><polygon points="230.8,608.4 236.5,606.0 244.7,608.4 246.3,613.3 239.8,616.6 233.2,614.1" fill="#0a730a" /><polygon points="185.0,610.9 190.7,609.2 198.9,611.7 207.1,614.9 212.0,619.0 207.1,620.7 198.9,617.4 190.7,615.8 185.8,614.1" fill="#0a730a" /><polygon points="256.1,648.4 259.4,646.8 258.6,655.0 255.3,656.6" fill="#0a730a" /><polygon points="212.0,689.3 218.5,687.7 219.3,692.6 213.6,694.2" fill="#0a730a" /><polygon points="113.9,662.3 116.4,663.2 116.4,667.2 113.9,666.4" fill="#0a730a" /><polygon points="172.8,596.1 176.8,594.5 176.8,598.6 173.6,599.4" fill="#0a730a" /><polygon points="71.4,577.4 78.0,584.7 86.1,592.9 96.0,599.4 104.1,603.5 103.3,606.0 94.3,602.7 84.5,597.8 76.3,592.9 73.1,586.3" fill="#ff0000" /><polygon points="143.3,607.6 151.5,605.1 159.7,607.6 162.1,614.1 158.1,618.2 149.9,619.0 144.2,615.8" fill="#ff0000" /><polygon points="156.4,601.1 164.6,599.4 172.8,605.1 177.7,612.5 176.8,616.6 169.5,613.3 163.0,608.4 157.2,605.1" fill="#ff0000" /><polygon points="146.6,597.8 154.8,596.1 154.0,600.2 147.4,600.2" fill="#ff0000" /><polygon points="88.6,645.2 93.5,641.1 98.4,644.4 100.9,650.9 96.8,654.2 91.9,651.7" fill="#ff0000" /><polygon points="168.7,690.1 177.7,685.2 189.1,686.8 192.4,689.3 185.8,692.6 180.9,695.0 172.8,695.8 167.9,694.2" fill="#ff0000" /><polygon points="214.4,596.1 218.5,594.5 220.2,599.4 216.1,601.9" fill="#ff0000" /><polygon points="164.6,639.5 168.7,638.6 169.5,642.7 165.4,643.5" fill="#ff0000" /><polygon points="216.1,623.1 219.3,622.3 219.3,627.2 216.9,627.2" fill="#ff0000" /><polygon points="185.8,666.4 195.6,666.4 195.6,669.7 185.8,668.9" fill="#ff0000" /><polygon points="203.0,674.6 205.4,673.0 205.4,679.5 203.5,679.5" fill="#ff0000" /><polygon points="238.1,666.4 244.7,668.1 243.9,671.3 239.0,669.7" fill="#ff0000" /><polygon points="154.8,660.7 161.3,659.9 162.1,666.4 155.6,666.7" fill="#ffffff" /><polygon points="164.6,672.1 169.5,672.1 169.5,676.2 164.6,676.2" fill="#ffffff" /></g>
<g transform="matrix(0.3465 0 0 0.3465 -173.26 349.71)">
<g clip-path="url(#cp)"></g>
<use href="#bd" fill="none" stroke="#444" stroke-width="2.6" stroke-linejoin="round"/>
<use href="#ol" fill="none" stroke="#444" stroke-width="3.2" stroke-linejoin="round"/>
<text x="875.25" y="731.25" style="font-size:28.5px;font-weight:bold;text-anchor:middle">HIID2</text>
<text x="858.4" y="763.75" style="font-size:28.5px;font-weight:bold;text-anchor:middle">HID1</text>
<text x="1066.25" y="745" style="font-size:28.5px;font-weight:bold;text-anchor:middle">HIID1</text>
<text x="1174.4" y="778.75" style="font-size:28.5px;font-weight:bold;text-anchor:middle">HIIC1</text>
<text x="760.9" y="829.5" style="font-size:28.5px;font-weight:bold;text-anchor:middle">HIID3</text>
<text x="882" y="852.5" style="font-size:28.5px;font-weight:bold;text-anchor:middle">HIC2</text>
<text x="1052.9" y="808.75" style="font-size:28.5px;font-weight:bold;text-anchor:middle">HIC1</text>
<text x="1180.9" y="857.5" style="font-size:28.5px;font-weight:bold;text-anchor:middle">HIB1</text>
<text x="1108.25" y="927.5" style="font-size:28.5px;font-weight:bold;text-anchor:middle">HIIA/B1</text>
<text x="935.5" y="946.25" style="font-size:28.5px;font-weight:bold;text-anchor:middle">HIIC2</text>
<text x="1056" y="966.25" style="font-size:28.5px;font-weight:bold;text-anchor:middle">HIIIA1</text>
</g>
<rect x="25.3" y="565.3" width="578.80" height="488.70" fill="none" stroke="#000" stroke-width="1.6"/>
<line x1="173" y1="565.3" x2="173" y2="559.8" stroke="#000" stroke-width="1.2"/>
<text class="tk" text-anchor="middle" x="173" y="556.8">80°E</text>
<line x1="346" y1="565.3" x2="346" y2="559.8" stroke="#000" stroke-width="1.2"/>
<text class="tk" text-anchor="middle" x="346" y="556.8">90°E</text>
<line x1="515" y1="565.3" x2="515" y2="559.8" stroke="#000" stroke-width="1.2"/>
<text class="tk" text-anchor="middle" x="515" y="556.8">100°E</text>
<line x1="46.8" y1="1054.0" x2="46.8" y2="1059.5" stroke="#000" stroke-width="1.2"/>
<text class="tk" text-anchor="middle" x="46.8" y="1071.5">80°E</text>
<line x1="272.2" y1="1054.0" x2="272.2" y2="1059.5" stroke="#000" stroke-width="1.2"/>
<text class="tk" text-anchor="middle" x="272.2" y="1071.5">90°E</text>
<line x1="490" y1="1054.0" x2="490" y2="1059.5" stroke="#000" stroke-width="1.2"/>
<text class="tk" text-anchor="middle" x="490" y="1071.5">100°E</text>
<line x1="25.3" y1="602.5" x2="19.8" y2="602.5" stroke="#000" stroke-width="1.2"/>
<text class="tk" text-anchor="middle" transform="translate(16.8 602.5) rotate(-90)">40°N</text>
<line x1="25.3" y1="731" x2="19.8" y2="731" stroke="#000" stroke-width="1.2"/>
<text class="tk" text-anchor="middle" transform="translate(16.8 731) rotate(-90)">35°N</text>
<line x1="25.3" y1="856.5" x2="19.8" y2="856.5" stroke="#000" stroke-width="1.2"/>
<text class="tk" text-anchor="middle" transform="translate(16.8 856.5) rotate(-90)">30°N</text>
<line x1="25.3" y1="981.2" x2="19.8" y2="981.2" stroke="#000" stroke-width="1.2"/>
<text class="tk" text-anchor="middle" transform="translate(16.8 981.2) rotate(-90)">25°N</text>
<line x1="604.1" y1="577.5" x2="609.6" y2="577.5" stroke="#000" stroke-width="1.2"/>
<text class="tk" text-anchor="middle" transform="translate(621.4 577.5) rotate(-90)">45°N</text>
<line x1="604.1" y1="698.5" x2="609.6" y2="698.5" stroke="#000" stroke-width="1.2"/>
<text class="tk" text-anchor="middle" transform="translate(621.4 698.5) rotate(-90)">40°N</text>
<line x1="604.1" y1="818.5" x2="609.6" y2="818.5" stroke="#000" stroke-width="1.2"/>
<text class="tk" text-anchor="middle" transform="translate(621.4 818.5) rotate(-90)">35°N</text>
<line x1="604.1" y1="940" x2="609.6" y2="940" stroke="#000" stroke-width="1.2"/>
<text class="tk" text-anchor="middle" transform="translate(621.4 940) rotate(-90)">30°N</text>
<g transform="translate(0 0)">
<g clip-path="url(#cp)"><rect x="680" y="640" width="600" height="380" fill="#00c8a5"/><polygon points="683.0,670.0 708.0,645.0 758.0,682.5 808.0,717.5 858.0,715.0 858.0,728.8 843.0,731.2 825.5,733.8 808.0,741.2 823.0,743.8 843.0,742.5 863.0,745.0 863.0,755.0 855.5,762.5 843.0,767.5 843.0,775.0 858.0,780.0 858.0,790.0 853.0,800.0 858.0,805.0 863.0,807.5 858.0,815.0 848.0,817.5 843.0,812.5 835.5,810.0 838.0,820.0 848.0,827.5 845.5,835.0 843.0,842.5 858.0,845.0 858.0,860.0 868.0,857.5 883.0,865.0 895.5,862.5 903.0,860.0 905.5,870.0 908.0,877.5 900.5,885.0 893.0,892.5 890.5,905.0 888.0,915.0 895.5,920.0 893.0,925.0 880.5,930.0 873.0,932.5 868.0,940.0 858.0,942.5 853.0,935.0 843.0,930.0 833.0,925.0 830.5,915.0 830.5,905.0 823.0,900.0 815.5,905.0 808.0,895.0 800.5,887.5 793.0,880.0 758.0,885.0 683.0,820.0" fill="#ffaa00" /><polygon points="890.5,770.0 898.0,767.5 908.0,767.5 910.5,762.5 915.5,765.0 915.5,775.0 908.0,780.0 913.0,785.0 905.5,787.5 900.5,781.2 893.0,777.5" fill="#ffaa00" /><polygon points="920.5,770.0 930.5,767.5 933.0,775.0 930.5,781.2 920.5,781.2" fill="#ffaa00" /><polygon points="865.5,772.5 875.5,772.5 875.5,781.2 865.5,781.2" fill="#ffaa00" /><polygon points="960.5,725.0 973.0,725.0 973.0,737.5 960.5,737.5" fill="#ffaa00" /><polygon points="868.0,807.5 880.5,807.5 880.5,817.5 870.5,817.5" fill="#ffaa00" /><polygon points="848.0,800.0 863.0,800.0 863.0,810.0 853.0,817.5 848.0,815.0" fill="#ffaa00" /><polygon points="785.5,750.0 813.0,747.5 815.5,755.0 790.5,758.8" fill="#00c8a5" /><polygon points="765.5,718.8 773.0,717.5 773.0,725.0 765.5,726.2" fill="#00c8a5" /><polygon points="820.5,792.5 828.0,791.2 828.0,800.0 821.8,805.0" fill="#00c8a5" /><polygon points="918.0,857.5 933.0,852.5 943.0,845.0 958.0,850.0 960.5,862.5 968.0,870.0 975.5,870.0 975.5,882.5 965.5,895.0 958.0,905.0 948.0,907.5 935.5,900.0 923.0,897.5 915.5,892.5 913.0,880.0 915.5,867.5" fill="#ffaa00" /><polygon points="933.0,957.5 938.0,950.0 948.0,947.5 958.0,942.5 968.0,940.0 975.5,945.0 983.0,955.0 990.5,962.5 1003.0,965.0 1003.0,995.0 983.0,995.0 975.5,975.0 958.0,967.5 943.0,962.5" fill="#ffaa00" /><polygon points="895.5,937.5 903.0,937.5 903.0,945.0 895.5,945.0" fill="#ffaa00" /><polygon points="800.5,887.5 815.5,892.5 823.0,895.0 830.5,900.0 830.5,915.0 833.0,925.0 825.5,917.5 815.5,907.5 808.0,900.0" fill="#00c8a5" /><polygon points="1113.8,692.5 1165.0,707.5 1227.5,740.0 1265.0,830.0 1265.0,870.0 1240.0,900.0 1205.0,932.5 1190.0,935.0 1182.5,940.0 1177.5,930.0 1175.0,920.0 1167.5,915.0 1160.0,905.0 1152.5,897.5 1147.5,900.0 1140.0,895.0 1130.0,900.0 1120.0,895.0 1115.0,885.0 1105.0,880.0 1100.0,877.5 1095.0,865.0 1087.5,857.5 1075.0,855.0 1065.0,852.5 1055.0,855.0 1047.5,862.5 1040.0,870.0 1030.0,870.0 1022.5,875.0 1012.5,875.0 1012.5,865.0 1017.5,855.0 1027.5,845.0 1015.0,845.0 1007.5,840.0 1010.0,827.5 1007.5,817.5 1010.0,807.5 1017.5,795.0 1020.0,785.0 1032.5,780.0 1037.5,775.0 1032.5,765.0 1035.0,755.0 1040.0,750.0 1047.5,745.0 1060.0,732.5 1065.0,727.5 1082.5,732.5 1092.5,727.5 1095.0,716.2 1107.5,720.0 1115.0,717.5" fill="#ffaa00" /><polygon points="1105.0,825.0 1115.0,822.5 1127.5,830.0 1130.0,840.0 1120.0,840.0 1110.0,832.5" fill="#00c8a5" /><polygon points="1140.0,817.5 1150.0,815.0 1155.0,825.0 1147.5,832.5 1140.0,827.5" fill="#00c8a5" /><polygon points="1165.0,835.0 1180.0,832.5 1190.0,837.5 1185.0,845.0 1170.0,842.5" fill="#00c8a5" /><polygon points="1165.0,857.5 1182.5,855.0 1187.5,865.0 1177.5,875.0 1167.5,870.0" fill="#00c8a5" /><polygon points="1050.0,840.0 1060.0,837.5 1065.0,845.0 1055.0,850.0" fill="#00c8a5" /><polygon points="1082.5,830.0 1090.0,830.0 1090.0,835.0 1082.5,835.0" fill="#00c8a5" /><polygon points="1195.0,907.5 1202.5,905.0 1205.0,915.0 1197.5,917.5" fill="#00c8a5" /><polygon points="1140.0,780.0 1150.0,777.5 1165.0,785.0 1155.0,792.5 1150.0,800.0 1145.0,805.0 1140.0,795.0" fill="#00c8a5" /><polygon points="1130.0,730.0 1145.0,730.0 1147.5,745.0 1140.0,752.5 1132.5,745.0" fill="#00c8a5" /><polygon points="1047.5,787.5 1070.0,790.0 1072.5,795.0 1052.5,795.0" fill="#00c8a5" /><polygon points="965.0,725.0 972.5,725.0 972.5,737.5 965.0,737.5" fill="#ffaa00" /><polygon points="995.0,890.0 1002.5,885.0 1015.0,885.0 1027.5,890.0 1030.0,885.0 1027.5,895.0 1022.5,902.5 1015.0,907.5 1010.0,912.5 1000.0,915.0 995.0,907.5" fill="#ffaa00" /><polygon points="965.0,942.5 975.0,937.5 987.5,937.5 995.0,945.0 993.8,952.5 996.2,960.0 1005.0,962.5 1015.0,957.5 1030.0,952.5 1047.5,947.5 1057.5,940.0 1065.0,942.5 1072.5,950.0 1082.5,955.0 1092.5,958.8 1100.0,965.0 1107.5,975.0 1115.0,985.0 1125.0,995.0 1065.0,1010.0 965.0,1010.0" fill="#ffaa00" /><polygon points="933.0,792.5 945.5,785.0 958.0,777.5 973.0,770.0 988.0,767.5 995.5,775.0 983.0,785.0 975.5,795.0 978.0,805.0 970.5,815.0 958.0,820.0 948.0,817.5 943.0,807.5 948.0,800.0 935.5,797.5" fill="#40b4ff" /><polygon points="900.5,840.0 913.0,837.5 923.0,842.5 918.0,850.0 905.5,852.5" fill="#40b4ff" /><polygon points="873.0,732.5 883.0,730.0 890.5,731.2 880.5,736.2 870.5,737.5" fill="#40b4ff" /><polygon points="918.0,717.5 935.5,715.0 940.5,720.0 928.0,725.0 920.5,722.5" fill="#40b4ff" /><polygon points="918.0,907.5 930.5,902.5 943.0,905.0 948.0,915.0 940.5,920.0 923.0,920.0 915.5,915.0" fill="#40b4ff" /><polygon points="950.5,915.0 960.5,907.5 965.5,910.0 955.5,920.0" fill="#40b4ff" /><polygon points="980.0,745.0 997.5,740.0 1015.0,747.5 1020.0,762.5 1015.0,777.5 997.5,775.0 985.0,765.0" fill="#40b4ff" /><polygon points="965.0,795.0 980.0,790.0 987.5,800.0 985.0,815.0 977.5,825.0 965.0,830.0" fill="#40b4ff" /><polygon points="975.0,825.0 1002.5,827.5 1007.5,845.0 1000.0,855.0 980.0,847.5" fill="#40b4ff" /><polygon points="965.0,850.0 980.0,842.5 1005.0,852.5 1002.5,862.5 990.0,870.0 975.0,875.0 965.0,870.0" fill="#40b4ff" /><polygon points="978.0,825.0 1003.0,820.0 1003.0,852.5 988.0,850.0 980.5,842.5" fill="#40b4ff" /><polygon points="997.5,937.5 1010.0,930.0 1020.0,932.5 1015.0,942.5 1005.0,950.0 997.5,947.5" fill="#40b4ff" /><polygon points="1135.0,930.0 1150.0,932.5 1157.5,940.0 1155.0,952.5 1145.0,947.5 1137.5,940.0" fill="#40b4ff" /><polygon points="1170.0,962.5 1185.0,960.0 1195.0,962.5 1190.0,972.5 1177.5,975.0 1170.0,970.0" fill="#40b4ff" /><polygon points="992.5,750.0 1012.5,752.5 1015.0,775.0 1002.5,772.5 995.0,762.5" fill="#0070ff" /><polygon points="980.0,827.5 1002.5,830.0 1005.0,845.0 997.5,852.5 982.5,845.0" fill="#0070ff" /><polygon points="923.0,716.2 935.5,716.2 935.5,722.5 925.5,723.0" fill="#0070ff" /><polygon points="1005.0,762.5 1013.8,765.0 1013.8,772.5 1006.2,771.2" fill="#004da8" /><polygon points="982.5,831.2 997.5,833.8 1000.0,842.5 987.5,842.5" fill="#004da8" /><circle cx="1175.0" cy="807.5" r="11.2" fill="#ff5500"/><circle cx="1033.0" cy="838.8" r="5.0" fill="#ff5500"/><polygon points="1212.5,895.0 1227.5,891.2 1235.0,895.0 1227.5,910.0 1217.5,912.5 1211.2,902.5" fill="#ff5500" /><polygon points="835.5,857.5 845.5,855.0 845.5,870.0 835.5,870.0" fill="#ff5500" /><polygon points="833.0,787.5 850.5,785.0 850.5,797.5 835.5,795.0" fill="#ff5500" /><polygon points="853.0,843.8 859.2,843.8 859.2,848.8 853.0,848.8" fill="#ff0000" /><polygon points="873.0,810.0 880.5,808.8 880.5,817.5 873.0,817.5" fill="#ff5500" /><polygon points="1125.0,872.5 1135.0,870.0 1132.5,880.0 1122.5,882.5" fill="#ff5500" /><polygon points="982.5,992.5 990.0,982.5 1002.5,975.0 1015.0,965.0 1027.5,957.5 1047.5,952.5 1065.0,957.5 1072.5,965.0 1070.0,972.5 1056.2,976.2 1040.0,983.8 1025.0,993.8 1018.8,998.8 1006.2,1000.0 995.0,998.0 986.2,996.0" fill="#ff5500" /><polygon points="997.5,990.0 1005.0,980.0 1015.0,970.0 1027.5,962.5 1047.5,956.2 1065.0,960.0 1070.0,967.5 1065.0,973.8 1056.2,976.2 1040.0,983.8 1025.0,993.8 1018.8,998.8 1006.2,1000.0 1000.0,997.0" fill="#ff0000" /><polygon points="1005.0,991.2 1015.0,977.5 1027.5,968.8 1047.5,961.2 1063.8,965.0 1065.0,972.5 1056.2,976.2 1040.0,983.8 1025.0,993.8 1018.8,998.8 1007.5,999.5" fill="#c00000" /><polygon points="874.2,714.0 906.8,704.5 914.8,712.5 903.0,718.0 898.0,720.0 874.2,718.8" fill="#ffffff" /><polygon points="1000.0,715.0 1015.0,710.0 1035.0,705.0 1050.0,707.5 1060.0,712.5 1065.0,722.5 1062.5,730.0 1052.5,737.5 1047.5,745.0 1037.5,747.5 1027.5,745.0 1020.0,750.0 1015.0,742.5 1007.5,730.0 1000.0,722.5" fill="#ffffff" /><polygon points="1047.5,747.5 1060.0,745.0 1070.0,752.5 1082.5,760.0 1095.0,767.5 1105.0,775.0 1095.0,775.0 1082.5,770.0 1070.0,765.0 1057.5,760.0 1050.0,755.0" fill="#ffffff" /><polygon points="1015.0,750.0 1027.5,755.0 1040.0,765.0 1050.0,772.5 1040.0,772.5 1027.5,765.0 1017.5,757.5" fill="#ffffff" /><polygon points="958.0,810.0 975.5,807.5 973.0,827.5 960.5,825.0" fill="#ffffff" /><polygon points="958.0,897.5 970.5,892.5 973.0,900.0 960.5,905.0" fill="#ffffff" /><polygon points="928.0,865.0 948.0,863.8 948.0,875.0 930.5,876.2" fill="#ffffff" /><polygon points="788.0,751.2 810.5,748.8 811.8,755.0 793.0,757.0" fill="#ffffff" /><g transform="rotate(40 1071.2 924.6)"><polygon points="993.1,938.5 1012.2,902.9 1049.9,877.8 1071.7,872.6 1107.5,868.6 1135.1,897.6 1141.6,924.8 1126.3,937.7 1083.4,941.0 1063.6,964.1 1047.1,991.1 1023.4,978.4" fill="#ffffff" filter="url(#f86)"/></g><g transform="rotate(30 771.5 763.0)"><polygon points="663.8,723.5 697.9,712.5 785.4,714.0 834.9,699.8 857.4,738.8 831.6,794.1 808.3,853.8 774.2,844.6 762.1,793.8 699.3,755.0" fill="#ffffff" filter="url(#f87)"/></g><g transform="rotate(35 1105.0 808.0)"><polygon points="925.5,795.7 1068.9,695.4 1222.5,740.4 1256.5,832.6 1051.7,975.9" fill="#ffffff" filter="url(#f88)"/></g><g transform="rotate(30 901.0 814.0)"><polygon points="795.1,766.6 932.3,664.3 1039.8,850.5 914.3,923.0 823.5,865.7" fill="#ffffff" filter="url(#f89)"/></g></g>
<use href="#bd" fill="none" stroke="#555" stroke-width="1.3" stroke-linejoin="round"/>
<use href="#ol" fill="none" stroke="#4d4d4d" stroke-width="1.6" stroke-linejoin="round"/>
<text class="rl" x="875.25" y="731.25">HIID2</text>
<text class="rl" x="858.4" y="763.75">HID1</text>
<text class="rl" x="1066.25" y="745">HIID1</text>
<text class="rl" x="1174.4" y="778.75">HIIC1</text>
<text class="rl" x="760.9" y="829.5">HIID3</text>
<text class="rl" x="882" y="852.5">HIC2</text>
<text class="rl" x="1052.9" y="808.75">HIC1</text>
<text class="rl" x="1180.9" y="857.5">HIB1</text>
<text class="rl" x="1108.25" y="927.5">HIIA/B1</text>
<text class="rl" x="935.5" y="946.25">HIIC2</text>
<text class="rl" x="1056" y="966.25">HIIIA1</text>
</g>
<g clip-path="url(#cpid)"><polygon points="748.2,644.4 753.1,643.5 755.6,648.4 753.1,652.5 749.1,650.1" fill="#0a730a" /><polygon points="774.4,647.6 779.3,646.0 782.6,650.1 787.5,651.7 789.1,656.6 783.4,659.9 778.5,659.1 774.4,655.0" fill="#0a730a" /><polygon points="826.7,690.9 835.7,686.8 847.1,686.8 850.4,689.3 843.8,692.6 838.9,695.0 830.8,695.8" fill="#0a730a" /><polygon points="888.0,626.4 894.5,624.7 899.4,628.0 898.6,632.9 892.0,634.6 888.0,631.3" fill="#0a730a" /><polygon points="904.3,656.6 908.4,654.2 911.7,659.1 908.4,664.8 904.3,663.2" fill="#0a730a" /><polygon points="839.8,637.8 844.7,637.0 846.3,641.1 842.2,642.7" fill="#0a730a" /><polygon points="870.0,650.9 875.7,650.1 877.3,654.2 871.6,655.8" fill="#0a730a" /><polygon points="887.1,608.4 892.0,607.6 892.0,611.7 888.0,612.2" fill="#0a730a" /><polygon points="914.9,639.5 918.2,638.6 918.2,644.4 914.9,645.2" fill="#0a730a" /><polygon points="756.4,617.4 759.7,616.6 759.7,619.8 756.9,620.3" fill="#0a730a" /><polygon points="773.6,622.3 777.7,621.5 778.5,625.6 774.4,626.4" fill="#0a730a" /><polygon points="843.8,608.4 848.7,609.2 847.9,612.5 844.2,611.7" fill="#0a730a" /><polygon points="852.0,613.3 865.1,614.9 870.0,613.3 869.2,617.4 856.9,617.4" fill="#0a730a" /><polygon points="742.5,638.6 747.4,639.5 747.4,642.7 743.3,642.7" fill="#0a730a" /><polygon points="761.3,648.4 764.6,649.3 764.6,652.5 761.3,651.7" fill="#0a730a" /><polygon points="803.0,596.1 812.8,593.7 821.0,594.5 819.3,598.6 812.8,601.9 804.6,602.7 802.2,599.4" fill="#ff0000" /><polygon points="818.5,608.4 824.2,607.6 825.9,602.7 830.8,603.5 835.7,607.6 842.2,615.8 838.9,619.0 832.4,617.4 829.1,620.7 822.6,619.0 820.1,614.1" fill="#ff0000" /><polygon points="808.7,620.7 814.4,617.4 817.7,620.7 814.4,625.6 816.1,632.1 812.8,633.7 810.3,627.2" fill="#ff0000" /><polygon points="822.6,635.4 829.1,635.4 834.0,640.3 837.3,646.0 832.4,650.1 827.5,648.4 824.2,643.5 821.8,638.6" fill="#ff0000" /><polygon points="829.1,621.5 834.0,620.7 834.8,625.6 830.8,627.2" fill="#ff0000" /><polygon points="805.4,664.0 811.2,662.3 817.7,664.8 816.1,668.9 809.5,669.7 806.2,667.2" fill="#ff0000" /><polygon points="798.1,676.2 806.2,674.6 807.1,679.5 801.3,681.1" fill="#ff0000" /><polygon points="788.3,641.9 794.8,640.3 803.0,641.9 802.2,646.0 794.8,646.8 789.9,646.0" fill="#ff0000" /><polygon points="852.0,653.3 858.5,651.7 859.4,657.4 853.6,659.1" fill="#ff0000" /><polygon points="832.4,673.8 837.3,668.1 842.2,666.4 843.0,669.7 838.9,674.6 834.8,677.9" fill="#ff0000" /><polygon points="877.3,674.6 883.1,671.3 888.0,674.6 894.5,677.9 899.4,681.1 897.8,686.0 891.2,686.8 886.3,682.8 879.8,681.1" fill="#ff0000" /><polygon points="861.8,666.4 870.0,664.0 870.8,668.1 863.4,669.7" fill="#ff0000" /></g>
<g transform="matrix(0.3465 0 0 0.3465 485.04 349.71)">
<g clip-path="url(#cp)"></g>
<use href="#bd" fill="none" stroke="#444" stroke-width="2.6" stroke-linejoin="round"/>
<use href="#ol" fill="none" stroke="#444" stroke-width="3.2" stroke-linejoin="round"/>
<text x="875.25" y="731.25" style="font-size:28.5px;font-weight:bold;text-anchor:middle">HIID2</text>
<text x="858.4" y="763.75" style="font-size:28.5px;font-weight:bold;text-anchor:middle">HID1</text>
<text x="1066.25" y="745" style="font-size:28.5px;font-weight:bold;text-anchor:middle">HIID1</text>
<text x="1174.4" y="778.75" style="font-size:28.5px;font-weight:bold;text-anchor:middle">HIIC1</text>
<text x="760.9" y="829.5" style="font-size:28.5px;font-weight:bold;text-anchor:middle">HIID3</text>
<text x="882" y="852.5" style="font-size:28.5px;font-weight:bold;text-anchor:middle">HIC2</text>
<text x="1052.9" y="808.75" style="font-size:28.5px;font-weight:bold;text-anchor:middle">HIC1</text>
<text x="1180.9" y="857.5" style="font-size:28.5px;font-weight:bold;text-anchor:middle">HIB1</text>
<text x="1108.25" y="927.5" style="font-size:28.5px;font-weight:bold;text-anchor:middle">HIIA/B1</text>
<text x="935.5" y="946.25" style="font-size:28.5px;font-weight:bold;text-anchor:middle">HIIC2</text>
<text x="1056" y="966.25" style="font-size:28.5px;font-weight:bold;text-anchor:middle">HIIIA1</text>
</g>
<rect x="683.2" y="565.3" width="578.10" height="488.70" fill="none" stroke="#000" stroke-width="1.6"/>
<line x1="830.5" y1="565.3" x2="830.5" y2="559.8" stroke="#000" stroke-width="1.2"/>
<text class="tk" text-anchor="middle" x="830.5" y="556.8">80°E</text>
<line x1="1003" y1="565.3" x2="1003" y2="559.8" stroke="#000" stroke-width="1.2"/>
<text class="tk" text-anchor="middle" x="1003" y="556.8">90°E</text>
<line x1="1173" y1="565.3" x2="1173" y2="559.8" stroke="#000" stroke-width="1.2"/>
<text class="tk" text-anchor="middle" x="1173" y="556.8">100°E</text>
<line x1="704.3" y1="1054.0" x2="704.3" y2="1059.5" stroke="#000" stroke-width="1.2"/>
<text class="tk" text-anchor="middle" x="704.3" y="1071.5">80°E</text>
<line x1="929.4" y1="1054.0" x2="929.4" y2="1059.5" stroke="#000" stroke-width="1.2"/>
<text class="tk" text-anchor="middle" x="929.4" y="1071.5">90°E</text>
<line x1="1148" y1="1054.0" x2="1148" y2="1059.5" stroke="#000" stroke-width="1.2"/>
<text class="tk" text-anchor="middle" x="1148" y="1071.5">100°E</text>
<line x1="683.2" y1="602.5" x2="677.7" y2="602.5" stroke="#000" stroke-width="1.2"/>
<text class="tk" text-anchor="middle" transform="translate(674.7 602.5) rotate(-90)">40°N</text>
<line x1="683.2" y1="730" x2="677.7" y2="730" stroke="#000" stroke-width="1.2"/>
<text class="tk" text-anchor="middle" transform="translate(674.7 730) rotate(-90)">35°N</text>
<line x1="683.2" y1="856.5" x2="677.7" y2="856.5" stroke="#000" stroke-width="1.2"/>
<text class="tk" text-anchor="middle" transform="translate(674.7 856.5) rotate(-90)">30°N</text>
<line x1="683.2" y1="981.2" x2="677.7" y2="981.2" stroke="#000" stroke-width="1.2"/>
<text class="tk" text-anchor="middle" transform="translate(674.7 981.2) rotate(-90)">25°N</text>
<line x1="1261.3" y1="577.5" x2="1266.8" y2="577.5" stroke="#000" stroke-width="1.2"/>
<text class="tk" text-anchor="middle" transform="translate(1278.6 577.5) rotate(-90)">45°N</text>
<line x1="1261.3" y1="698.5" x2="1266.8" y2="698.5" stroke="#000" stroke-width="1.2"/>
<text class="tk" text-anchor="middle" transform="translate(1278.6 698.5) rotate(-90)">40°N</text>
<line x1="1261.3" y1="818.5" x2="1266.8" y2="818.5" stroke="#000" stroke-width="1.2"/>
<text class="tk" text-anchor="middle" transform="translate(1278.6 818.5) rotate(-90)">35°N</text>
<line x1="1261.3" y1="940" x2="1266.8" y2="940" stroke="#000" stroke-width="1.2"/>
<text class="tk" text-anchor="middle" transform="translate(1278.6 940) rotate(-90)">30°N</text>
<text class="pl" x="47" y="69">(a)</text>
<text class="pl" x="695.5" y="69">(b)</text>
<text class="pl" x="40" y="607.5">(c)</text>
<text class="pl" x="696.5" y="607.5">(d)</text>
<text class="N" x="568.0" y="52.0">N</text>
<path d="M567.5,57.5 L554.5,101.0 L567.5,85.0Z" fill="#000" stroke="#000" stroke-width="0.8" stroke-linejoin="miter"/>
<path d="M567.5,57.5 L580.5,101.0 L567.5,85.0Z" fill="#fff" stroke="#000" stroke-width="1.4" stroke-linejoin="miter"/>
<text class="N" x="1208.0" y="54.0">N</text>
<path d="M1207.5,59.5 L1194.5,103.0 L1207.5,87.0Z" fill="#000" stroke="#000" stroke-width="0.8" stroke-linejoin="miter"/>
<path d="M1207.5,59.5 L1220.5,103.0 L1207.5,87.0Z" fill="#fff" stroke="#000" stroke-width="1.4" stroke-linejoin="miter"/>
<text class="N" x="551.0" y="592.0">N</text>
<path d="M550.5,597.5 L537.5,641.0 L550.5,625.0Z" fill="#000" stroke="#000" stroke-width="0.8" stroke-linejoin="miter"/>
<path d="M550.5,597.5 L563.5,641.0 L550.5,625.0Z" fill="#fff" stroke="#000" stroke-width="1.4" stroke-linejoin="miter"/>
<text class="N" x="1208.0" y="592.0">N</text>
<path d="M1207.5,597.5 L1194.5,641.0 L1207.5,625.0Z" fill="#000" stroke="#000" stroke-width="0.8" stroke-linejoin="miter"/>
<path d="M1207.5,597.5 L1220.5,641.0 L1207.5,625.0Z" fill="#fff" stroke="#000" stroke-width="1.4" stroke-linejoin="miter"/>
<path d="M456.25,502.5 L456.25,509 L568.25,509 L568.25,502.5 M470.25,509 L470.25,505 M484.25,509 L484.25,505 M498.25,509 L498.25,505 M512.25,509 L512.25,502.5 M526.25,509 L526.25,505 M540.25,509 L540.25,505 M554.25,509 L554.25,505" fill="none" stroke="#222" stroke-width="1"/>
<text class="sb" text-anchor="middle" x="456.2" y="496">0</text>
<text class="sb" text-anchor="middle" x="484.2" y="496">130</text>
<text class="sb" text-anchor="middle" x="512.2" y="496">260</text>
<text class="sb" x="560.25" y="496">520 Km</text>
<path d="M707,454.9 L707,461.4 L818.9,461.4 L818.9,454.9 M720.99,461.4 L720.99,457.4 M734.98,461.4 L734.98,457.4 M748.96,461.4 L748.96,457.4 M762.95,461.4 L762.95,454.9 M776.94,461.4 L776.94,457.4 M790.92,461.4 L790.92,457.4 M804.91,461.4 L804.91,457.4" fill="none" stroke="#222" stroke-width="1"/>
<text class="sb" text-anchor="middle" x="707.0" y="448.4">0</text>
<text class="sb" text-anchor="middle" x="735.0" y="448.4">130</text>
<text class="sb" text-anchor="middle" x="763.0" y="448.4">260</text>
<text class="sb" x="810.9" y="448.4">520 Km</text>
<text x="40" y="422.5" style="font-size:12px;font-weight:bold">FVC</text>
<rect x="39.3" y="430.60" width="19.8" height="9.6" fill="#ff0000" stroke="#6e6e6e" stroke-width="1"/>
<text x="62.5" y="439.60" style="font-size:12px">0 – 0.1</text>
<rect x="39.3" y="447.75" width="19.8" height="9.6" fill="#ffa500" stroke="#6e6e6e" stroke-width="1"/>
<text x="62.5" y="456.75" style="font-size:12px">0.1 – 0.3</text>
<rect x="39.3" y="464.90" width="19.8" height="9.6" fill="#e3fcc1" stroke="#6e6e6e" stroke-width="1"/>
<text x="62.5" y="473.90" style="font-size:12px">0.3 – 0.5</text>
<rect x="39.3" y="482.05" width="19.8" height="9.6" fill="#78ff00" stroke="#6e6e6e" stroke-width="1"/>
<text x="62.5" y="491.05" style="font-size:12px">0.5 – 0.7</text>
<rect x="39.3" y="499.20" width="19.8" height="9.6" fill="#007000" stroke="#6e6e6e" stroke-width="1"/>
<text x="62.5" y="508.20" style="font-size:12px">0.7 – 1</text>
<rect x="714.50" y="475" width="52.47" height="15.3" fill="#c80000" stroke="#777" stroke-width="0.8"/>
<rect x="766.97" y="475" width="52.47" height="15.3" fill="#ff0000" stroke="#777" stroke-width="0.8"/>
<rect x="819.44" y="475" width="52.47" height="15.3" fill="#ff8080" stroke="#777" stroke-width="0.8"/>
<rect x="871.91" y="475" width="52.47" height="15.3" fill="#ffab7a" stroke="#777" stroke-width="0.8"/>
<rect x="924.38" y="475" width="52.47" height="15.3" fill="#ffd280" stroke="#777" stroke-width="0.8"/>
<rect x="976.85" y="475" width="52.47" height="15.3" fill="#b8ffb8" stroke="#777" stroke-width="0.8"/>
<rect x="1029.32" y="475" width="52.47" height="15.3" fill="#66ff66" stroke="#777" stroke-width="0.8"/>
<rect x="1081.79" y="475" width="52.47" height="15.3" fill="#00e000" stroke="#777" stroke-width="0.8"/>
<rect x="1134.26" y="475" width="52.47" height="15.3" fill="#00a000" stroke="#777" stroke-width="0.8"/>
<rect x="1186.73" y="475" width="52.47" height="15.3" fill="#006e00" stroke="#777" stroke-width="0.8"/>
<text x="753" y="507" style="font-size:12.5px">&lt; −0.004</text>
<text x="812" y="507" style="font-size:12.5px">−0.003</text>
<text x="865.5" y="507" style="font-size:12.5px">−0.002</text>
<text x="918" y="507" style="font-size:12.5px">−0.001</text>
<text x="973.5" y="507" style="font-size:12.5px">0</text>
<text x="1026.5" y="507" style="font-size:12.5px">0.001</text>
<text x="1079.5" y="507" style="font-size:12.5px">0.002</text>
<text x="1132.5" y="507" style="font-size:12.5px">0.003</text>
<text x="1183" y="507" style="font-size:12.5px">&gt; 0.004</text>
<rect x="64.00" y="1011" width="62.80" height="15.5" fill="#004da8" stroke="#777" stroke-width="0.8"/>
<rect x="126.80" y="1011" width="62.80" height="15.5" fill="#0070ff" stroke="#777" stroke-width="0.8"/>
<rect x="189.60" y="1011" width="62.80" height="15.5" fill="#bed2ff" stroke="#777" stroke-width="0.8"/>
<rect x="252.40" y="1011" width="62.80" height="15.5" fill="#00f0c8" stroke="#777" stroke-width="0.8"/>
<rect x="315.20" y="1011" width="62.80" height="15.5" fill="#ffaa00" stroke="#777" stroke-width="0.8"/>
<rect x="378.00" y="1011" width="62.80" height="15.5" fill="#ff5500" stroke="#777" stroke-width="0.8"/>
<rect x="440.80" y="1011" width="62.80" height="15.5" fill="#ff0000" stroke="#777" stroke-width="0.8"/>
<rect x="503.60" y="1011" width="62.80" height="15.5" fill="#800000" stroke="#777" stroke-width="0.8"/>
<text x="101.6" y="1044" style="font-size:17.2px">&lt; −0.15</text>
<text x="176.8" y="1044" style="font-size:17.2px">−0.1</text>
<text x="241" y="1044" style="font-size:17.2px">−0.05</text>
<text x="312.5" y="1044" style="font-size:17.2px">0</text>
<text x="374" y="1044" style="font-size:17.2px">0.05</text>
<text x="439" y="1044" style="font-size:17.2px">0.1</text>
<text x="493.5" y="1044" style="font-size:17.2px">&gt; 0.15</text>
<text x="64.5" y="996" class="lg">°C/year</text>
<rect x="721.30" y="1011" width="62.87" height="15.5" fill="#004da8" stroke="#777" stroke-width="0.8"/>
<rect x="784.17" y="1011" width="62.87" height="15.5" fill="#0070ff" stroke="#777" stroke-width="0.8"/>
<rect x="847.04" y="1011" width="62.87" height="15.5" fill="#40b4ff" stroke="#777" stroke-width="0.8"/>
<rect x="909.91" y="1011" width="62.87" height="15.5" fill="#00c8a5" stroke="#777" stroke-width="0.8"/>
<rect x="972.78" y="1011" width="62.87" height="15.5" fill="#ffaa00" stroke="#777" stroke-width="0.8"/>
<rect x="1035.65" y="1011" width="62.87" height="15.5" fill="#ff5500" stroke="#777" stroke-width="0.8"/>
<rect x="1098.52" y="1011" width="62.87" height="15.5" fill="#ff0000" stroke="#777" stroke-width="0.8"/>
<rect x="1161.39" y="1011" width="62.87" height="15.5" fill="#c00000" stroke="#777" stroke-width="0.8"/>
<text x="758.4" y="1044" style="font-size:17.2px">&lt; −24</text>
<text x="832.6" y="1044" style="font-size:17.2px">−16</text>
<text x="896" y="1044" style="font-size:17.2px">−8</text>
<text x="969.5" y="1044" style="font-size:17.2px">0</text>
<text x="1031" y="1044" style="font-size:17.2px">8</text>
<text x="1092" y="1044" style="font-size:17.2px">16</text>
<text x="1151" y="1044" style="font-size:17.2px">&gt; 24</text>
<text x="722.3" y="995.6" class="lg">mm/year</text>
</svg></body></html>
